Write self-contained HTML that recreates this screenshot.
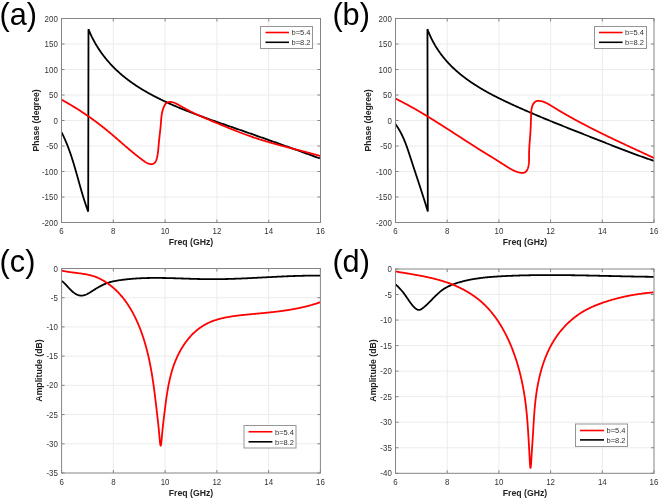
<!DOCTYPE html>
<html><head><meta charset="utf-8"><style>
html,body{margin:0;padding:0;background:#fff;}
svg{display:block;font-family:"Liberation Sans", sans-serif;will-change:transform;}
</style></head><body>
<svg width="660" height="500" viewBox="0 0 660 500">
<rect width="660" height="500" fill="#fff"/>
<path d="M113.30,18.50V222.50M165.10,18.50V222.50M216.90,18.50V222.50M268.70,18.50V222.50M61.50,197.00H320.50M61.50,171.50H320.50M61.50,146.00H320.50M61.50,120.50H320.50M61.50,95.00H320.50M61.50,69.50H320.50M61.50,44.00H320.50" stroke="#ececec" stroke-width="1" fill="none"/>
<path d="M61.50,222.50V219.50M61.50,18.50V21.50M113.30,222.50V219.50M113.30,18.50V21.50M165.10,222.50V219.50M165.10,18.50V21.50M216.90,222.50V219.50M216.90,18.50V21.50M268.70,222.50V219.50M268.70,18.50V21.50M320.50,222.50V219.50M320.50,18.50V21.50M61.50,222.50H64.50M320.50,222.50H317.50M61.50,197.00H64.50M320.50,197.00H317.50M61.50,171.50H64.50M320.50,171.50H317.50M61.50,146.00H64.50M320.50,146.00H317.50M61.50,120.50H64.50M320.50,120.50H317.50M61.50,95.00H64.50M320.50,95.00H317.50M61.50,69.50H64.50M320.50,69.50H317.50M61.50,44.00H64.50M320.50,44.00H317.50M61.50,18.50H64.50M320.50,18.50H317.50" stroke="#858585" stroke-width="1" fill="none"/>
<path d="M61.60,132.39 L61.93,133.02 L62.24,133.66 L62.56,134.30 L62.87,134.94 L63.18,135.58 L63.48,136.23 L63.78,136.87 L64.08,137.51 L64.38,138.16 L64.67,138.81 L64.95,139.46 L65.24,140.11 L65.52,140.76 L65.80,141.41 L66.07,142.06 L66.35,142.72 L66.61,143.37 L66.88,144.03 L67.14,144.69 L67.41,145.34 L67.66,146.00 L67.92,146.66 L68.17,147.33 L68.42,147.99 L68.67,148.65 L68.92,149.31 L69.16,149.98 L69.40,150.64 L69.64,151.31 L69.87,151.98 L70.11,152.65 L70.34,153.32 L70.57,153.98 L70.80,154.66 L71.02,155.33 L71.25,156.00 L71.47,156.67 L71.69,157.34 L71.91,158.02 L72.13,158.69 L72.34,159.37 L72.55,160.04 L72.77,160.72 L72.98,161.39 L73.19,162.07 L73.39,162.75 L73.60,163.43 L73.81,164.10 L74.01,164.78 L74.21,165.46 L74.41,166.14 L74.61,166.82 L74.81,167.50 L75.01,168.18 L75.21,168.86 L75.41,169.55 L75.60,170.23 L75.80,170.91 L75.99,171.59 L76.19,172.27 L76.38,172.96 L76.58,173.64 L76.77,174.32 L76.96,175.01 L77.15,175.69 L77.34,176.37 L77.53,177.06 L77.73,177.74 L77.92,178.42 L78.11,179.11 L78.30,179.79 L78.49,180.47 L78.68,181.16 L78.87,181.84 L79.06,182.53 L79.25,183.21 L79.44,183.89 L79.64,184.58 L79.83,185.26 L80.02,185.94 L80.22,186.62 L80.41,187.31 L80.60,187.99 L80.80,188.67 L80.99,189.35 L81.19,190.04 L81.39,190.72 L81.59,191.40 L81.79,192.08 L81.99,192.76 L82.19,193.44 L82.39,194.12 L82.59,194.80 L82.80,195.48 L83.00,196.16 L83.21,196.83 L83.42,197.51 L83.63,198.19 L83.84,198.87 L84.05,199.54 L84.26,200.22 L84.48,200.89 L84.70,201.57 L84.92,202.24 L85.14,202.91 L85.36,203.59 L85.59,204.26 L85.81,204.93 L86.04,205.60 L86.27,206.27 L86.50,206.94 L86.74,207.61 L86.98,208.27 L87.22,208.94 L87.46,209.61 L87.70,210.27 L87.95,210.93 L88.20,211.60 L88.48,29.21 L88.75,29.88 L89.02,30.55 L89.29,31.21 L89.57,31.87 L89.85,32.53 L90.14,33.19 L90.43,33.84 L90.73,34.49 L91.03,35.14 L91.33,35.79 L91.64,36.43 L91.95,37.08 L92.27,37.71 L92.59,38.35 L92.91,38.99 L93.24,39.62 L93.57,40.25 L93.90,40.87 L94.24,41.50 L94.59,42.12 L94.94,42.74 L95.29,43.35 L95.64,43.97 L96.00,44.58 L96.36,45.19 L96.73,45.79 L97.10,46.40 L97.47,47.00 L97.85,47.60 L98.23,48.19 L98.62,48.79 L99.00,49.38 L99.40,49.96 L99.79,50.55 L100.19,51.13 L100.59,51.71 L101.00,52.29 L101.41,52.86 L101.82,53.43 L102.23,54.00 L102.65,54.57 L103.08,55.13 L103.50,55.69 L103.93,56.25 L104.36,56.81 L104.80,57.36 L105.24,57.91 L105.68,58.46 L106.12,59.00 L106.57,59.55 L107.02,60.08 L107.48,60.62 L107.93,61.15 L108.39,61.69 L108.86,62.21 L109.32,62.74 L109.79,63.26 L110.26,63.78 L110.74,64.30 L111.22,64.81 L111.70,65.32 L112.18,65.83 L112.67,66.34 L113.16,66.84 L113.65,67.34 L114.14,67.84 L114.64,68.33 L115.14,68.82 L115.64,69.31 L116.15,69.79 L116.65,70.28 L117.16,70.76 L117.68,71.23 L118.19,71.71 L118.71,72.18 L119.23,72.65 L119.75,73.11 L120.28,73.57 L120.80,74.03 L121.33,74.49 L121.86,74.94 L122.40,75.39 L122.93,75.84 L123.47,76.28 L124.01,76.73 L124.56,77.17 L125.10,77.60 L125.65,78.03 L126.20,78.47 L126.75,78.89 L127.30,79.32 L127.86,79.74 L128.42,80.16 L128.98,80.58 L129.54,80.99 L130.10,81.41 L130.67,81.82 L131.23,82.22 L131.80,82.63 L132.37,83.03 L132.94,83.43 L133.52,83.83 L134.10,84.22 L134.67,84.61 L135.25,85.00 L135.83,85.39 L136.42,85.78 L137.00,86.16 L137.59,86.54 L138.18,86.92 L138.76,87.29 L139.35,87.67 L139.95,88.04 L140.54,88.41 L141.14,88.77 L141.73,89.14 L142.33,89.50 L142.93,89.86 L143.53,90.22 L144.13,90.58 L144.74,90.93 L145.34,91.28 L145.95,91.63 L146.55,91.98 L147.16,92.33 L147.77,92.67 L148.38,93.01 L148.99,93.36 L149.60,93.69 L150.22,94.03 L150.83,94.37 L151.45,94.70 L152.07,95.03 L152.68,95.36 L153.30,95.69 L153.92,96.01 L154.54,96.34 L155.16,96.66 L155.78,96.98 L156.41,97.30 L157.03,97.62 L157.66,97.93 L158.28,98.25 L158.91,98.56 L159.53,98.87 L160.16,99.18 L160.79,99.49 L161.42,99.79 L162.04,100.10 L162.67,100.40 L163.31,100.70 L163.94,101.00 L164.57,101.30 L165.20,101.60 L165.83,101.90 L166.47,102.19 L167.10,102.48 L167.74,102.78 L168.37,103.07 L169.01,103.36 L169.65,103.64 L170.28,103.93 L170.92,104.22 L171.56,104.50 L172.20,104.78 L172.84,105.06 L173.48,105.34 L174.12,105.62 L174.76,105.90 L175.40,106.18 L176.05,106.45 L176.69,106.73 L177.33,107.00 L177.98,107.27 L178.62,107.54 L179.27,107.81 L179.91,108.08 L180.56,108.35 L181.21,108.62 L181.85,108.88 L182.50,109.15 L183.15,109.41 L183.80,109.67 L184.45,109.94 L185.10,110.20 L185.75,110.46 L186.40,110.71 L187.05,110.97 L187.70,111.23 L188.35,111.49 L189.01,111.74 L189.66,112.00 L190.31,112.25 L190.97,112.50 L191.62,112.75 L192.28,113.00 L192.93,113.26 L193.59,113.50 L194.24,113.75 L194.90,114.00 L195.56,114.25 L196.21,114.50 L196.87,114.74 L197.53,114.99 L198.19,115.23 L198.84,115.48 L199.50,115.72 L200.16,115.96 L200.82,116.20 L201.48,116.45 L202.14,116.69 L202.80,116.93 L203.46,117.17 L204.13,117.41 L204.79,117.65 L205.45,117.88 L206.11,118.12 L206.77,118.36 L207.44,118.60 L208.10,118.83 L208.76,119.07 L209.43,119.31 L210.09,119.54 L210.76,119.78 L211.42,120.01 L212.08,120.24 L212.75,120.48 L213.42,120.71 L214.08,120.95 L214.75,121.18 L215.41,121.41 L216.08,121.64 L216.74,121.88 L217.41,122.11 L218.08,122.34 L218.75,122.57 L219.41,122.80 L220.08,123.04 L220.75,123.27 L221.42,123.50 L222.08,123.73 L222.75,123.96 L223.42,124.19 L224.09,124.42 L224.76,124.65 L225.43,124.88 L226.09,125.12 L226.76,125.35 L227.43,125.58 L228.10,125.81 L228.77,126.04 L229.44,126.27 L230.11,126.50 L230.78,126.73 L231.45,126.96 L232.12,127.19 L232.79,127.43 L233.46,127.66 L234.13,127.89 L234.80,128.12 L235.47,128.35 L236.14,128.58 L236.81,128.82 L237.48,129.05 L238.15,129.28 L238.82,129.51 L239.49,129.75 L240.16,129.98 L240.83,130.21 L241.50,130.45 L242.17,130.68 L242.85,130.91 L243.52,131.15 L244.19,131.38 L244.86,131.61 L245.53,131.85 L246.20,132.08 L246.87,132.32 L247.54,132.55 L248.21,132.78 L248.88,133.02 L249.55,133.25 L250.22,133.49 L250.89,133.72 L251.56,133.96 L252.23,134.19 L252.90,134.43 L253.57,134.66 L254.24,134.90 L254.91,135.13 L255.58,135.37 L256.25,135.60 L256.92,135.84 L257.59,136.07 L258.26,136.31 L258.93,136.54 L259.60,136.78 L260.27,137.02 L260.93,137.25 L261.60,137.49 L262.27,137.72 L262.94,137.96 L263.61,138.20 L264.28,138.43 L264.94,138.67 L265.61,138.90 L266.28,139.14 L266.95,139.38 L267.61,139.61 L268.28,139.85 L268.95,140.09 L269.61,140.32 L270.28,140.56 L270.94,140.79 L271.61,141.03 L272.28,141.27 L272.94,141.50 L273.61,141.74 L274.27,141.98 L274.94,142.21 L275.60,142.45 L276.26,142.69 L276.93,142.92 L277.59,143.16 L278.25,143.40 L278.92,143.63 L279.58,143.87 L280.24,144.11 L280.90,144.34 L281.56,144.58 L282.23,144.82 L282.89,145.05 L283.55,145.29 L284.21,145.53 L284.87,145.76 L285.53,146.00 L286.19,146.24 L286.85,146.47 L287.50,146.71 L288.16,146.95 L288.82,147.18 L289.48,147.42 L290.14,147.65 L290.79,147.89 L291.45,148.13 L292.10,148.36 L292.76,148.60 L293.42,148.84 L294.07,149.07 L294.72,149.31 L295.38,149.54 L296.03,149.78 L296.68,150.02 L297.34,150.25 L297.99,150.49 L298.64,150.72 L299.29,150.96 L299.94,151.19 L300.59,151.43 L301.24,151.67 L301.89,151.90 L302.54,152.14 L303.19,152.37 L303.84,152.61 L304.49,152.84 L305.13,153.08 L305.78,153.31 L306.42,153.55 L307.07,153.78 L307.71,154.02 L308.36,154.25 L309.00,154.49 L309.65,154.72 L310.29,154.95 L310.93,155.19 L311.57,155.42 L312.21,155.66 L312.85,155.89 L313.49,156.12 L314.13,156.36 L314.77,156.59 L315.41,156.83 L316.05,157.06 L316.68,157.29 L317.32,157.53 L317.96,157.76 L318.59,157.99 L319.22,158.22 L319.86,158.46" stroke="#000000" stroke-width="1.8" fill="none" stroke-linejoin="miter" stroke-linecap="butt"/>
<path d="M61.53,99.68 L62.15,100.02 L62.77,100.36 L63.39,100.71 L64.00,101.05 L64.62,101.40 L65.24,101.75 L65.85,102.09 L66.46,102.45 L67.07,102.80 L67.68,103.15 L68.29,103.50 L68.90,103.86 L69.51,104.22 L70.12,104.57 L70.72,104.93 L71.33,105.29 L71.93,105.66 L72.53,106.02 L73.13,106.38 L73.73,106.75 L74.33,107.12 L74.93,107.49 L75.53,107.86 L76.12,108.23 L76.72,108.60 L77.31,108.97 L77.90,109.35 L78.49,109.72 L79.09,110.10 L79.68,110.48 L80.26,110.86 L80.85,111.24 L81.44,111.63 L82.02,112.01 L82.61,112.40 L83.19,112.78 L83.78,113.17 L84.36,113.56 L84.94,113.95 L85.52,114.34 L86.10,114.74 L86.68,115.13 L87.25,115.53 L87.83,115.93 L88.40,116.33 L88.98,116.73 L89.55,117.13 L90.12,117.53 L90.69,117.94 L91.27,118.34 L91.83,118.75 L92.40,119.16 L92.97,119.57 L93.54,119.98 L94.10,120.39 L94.67,120.81 L95.23,121.22 L95.80,121.64 L96.36,122.06 L96.92,122.48 L97.48,122.90 L98.04,123.32 L98.60,123.74 L99.16,124.17 L99.71,124.60 L100.27,125.02 L100.82,125.45 L101.38,125.88 L101.93,126.32 L102.48,126.75 L103.04,127.19 L103.59,127.62 L104.14,128.06 L104.69,128.50 L105.23,128.94 L105.78,129.38 L106.33,129.82 L106.87,130.27 L107.42,130.72 L107.96,131.16 L108.51,131.61 L109.05,132.06 L109.59,132.51 L110.13,132.97 L110.67,133.42 L111.21,133.88 L111.75,134.33 L112.29,134.79 L112.83,135.25 L113.37,135.71 L113.90,136.17 L114.44,136.63 L114.97,137.09 L115.51,137.55 L116.04,138.01 L116.58,138.47 L117.11,138.94 L117.65,139.40 L118.18,139.86 L118.71,140.32 L119.24,140.79 L119.78,141.25 L120.31,141.71 L120.84,142.18 L121.37,142.64 L121.90,143.10 L122.43,143.56 L122.96,144.02 L123.49,144.48 L124.02,144.94 L124.56,145.40 L125.09,145.86 L125.62,146.32 L126.15,146.78 L126.68,147.23 L127.21,147.69 L127.74,148.14 L128.27,148.59 L128.80,149.04 L129.33,149.49 L129.86,149.94 L130.40,150.39 L130.93,150.84 L131.46,151.28 L131.99,151.72 L132.53,152.16 L133.06,152.60 L133.59,153.04 L134.13,153.47 L134.66,153.91 L135.20,154.34 L135.73,154.77 L136.27,155.20 L136.81,155.63 L137.36,156.06 L137.90,156.48 L138.45,156.91 L139.00,157.34 L139.56,157.77 L140.12,158.20 L140.69,158.64 L141.26,159.07 L141.83,159.51 L142.41,159.95 L143.00,160.39 L143.60,160.82 L144.20,161.25 L144.81,161.67 L145.42,162.07 L146.05,162.45 L146.68,162.81 L147.32,163.14 L147.97,163.44 L148.63,163.71 L149.29,163.93 L149.96,164.10 L150.63,164.20 L151.29,164.23 L151.94,164.18 L152.59,164.03 L153.22,163.79 L153.81,163.47 L154.34,163.08 L154.82,162.62 L155.25,162.11 L155.62,161.56 L155.94,160.96 L156.23,160.32 L156.48,159.66 L156.70,158.97 L156.89,158.26 L157.06,157.55 L157.22,156.83 L157.36,156.11 L157.49,155.40 L157.61,154.68 L157.73,153.97 L157.83,153.26 L157.93,152.55 L158.02,151.84 L158.10,151.14 L158.18,150.43 L158.25,149.73 L158.32,149.03 L158.38,148.33 L158.44,147.63 L158.50,146.93 L158.56,146.23 L158.62,145.53 L158.68,144.84 L158.74,144.14 L158.80,143.45 L158.86,142.75 L158.92,142.06 L158.99,141.36 L159.06,140.67 L159.13,139.98 L159.21,139.29 L159.28,138.59 L159.36,137.90 L159.44,137.21 L159.52,136.52 L159.60,135.82 L159.68,135.13 L159.76,134.44 L159.84,133.75 L159.92,133.05 L160.00,132.36 L160.08,131.66 L160.16,130.97 L160.24,130.27 L160.31,129.58 L160.38,128.88 L160.46,128.18 L160.53,127.48 L160.59,126.78 L160.66,126.08 L160.72,125.38 L160.77,124.67 L160.83,123.97 L160.88,123.26 L160.93,122.56 L160.99,121.85 L161.04,121.14 L161.09,120.44 L161.15,119.73 L161.21,119.02 L161.27,118.32 L161.34,117.61 L161.42,116.91 L161.50,116.21 L161.59,115.51 L161.69,114.82 L161.80,114.12 L161.92,113.43 L162.06,112.74 L162.20,112.05 L162.36,111.37 L162.54,110.69 L162.72,110.02 L162.93,109.35 L163.15,108.68 L163.39,108.02 L163.66,107.36 L163.94,106.71 L164.24,106.06 L164.56,105.42 L164.91,104.80 L165.30,104.20 L165.73,103.66 L166.22,103.18 L166.77,102.78 L167.37,102.47 L168.03,102.23 L168.71,102.07 L169.41,101.98 L170.11,101.94 L170.80,101.96 L171.49,102.03 L172.16,102.15 L172.83,102.31 L173.49,102.50 L174.14,102.73 L174.79,102.99 L175.43,103.27 L176.06,103.57 L176.70,103.90 L177.33,104.23 L177.96,104.58 L178.58,104.93 L179.21,105.28 L179.83,105.63 L180.46,105.99 L181.08,106.34 L181.71,106.68 L182.33,107.03 L182.96,107.38 L183.58,107.72 L184.20,108.06 L184.83,108.40 L185.45,108.74 L186.08,109.08 L186.70,109.41 L187.32,109.74 L187.95,110.07 L188.58,110.40 L189.20,110.72 L189.83,111.05 L190.46,111.36 L191.08,111.68 L191.71,111.99 L192.34,112.30 L192.97,112.61 L193.60,112.92 L194.23,113.22 L194.86,113.52 L195.49,113.82 L196.12,114.12 L196.75,114.42 L197.39,114.71 L198.02,115.00 L198.65,115.29 L199.29,115.58 L199.92,115.87 L200.56,116.15 L201.19,116.44 L201.83,116.72 L202.47,117.00 L203.10,117.28 L203.74,117.56 L204.38,117.83 L205.02,118.11 L205.66,118.38 L206.30,118.66 L206.94,118.93 L207.58,119.20 L208.22,119.47 L208.86,119.74 L209.50,120.01 L210.14,120.28 L210.79,120.55 L211.43,120.82 L212.07,121.09 L212.72,121.36 L213.36,121.63 L214.01,121.90 L214.65,122.16 L215.30,122.43 L215.94,122.70 L216.59,122.97 L217.24,123.24 L217.88,123.51 L218.53,123.77 L219.18,124.04 L219.83,124.31 L220.48,124.58 L221.13,124.85 L221.78,125.12 L222.43,125.39 L223.08,125.66 L223.73,125.93 L224.38,126.20 L225.03,126.47 L225.69,126.73 L226.34,127.00 L226.99,127.27 L227.65,127.54 L228.30,127.81 L228.95,128.07 L229.61,128.34 L230.26,128.61 L230.92,128.87 L231.57,129.14 L232.23,129.40 L232.89,129.66 L233.54,129.93 L234.20,130.19 L234.86,130.45 L235.52,130.71 L236.17,130.97 L236.83,131.23 L237.49,131.49 L238.15,131.75 L238.81,132.00 L239.47,132.26 L240.13,132.51 L240.79,132.77 L241.45,133.02 L242.11,133.27 L242.77,133.52 L243.44,133.77 L244.10,134.02 L244.76,134.26 L245.42,134.51 L246.09,134.75 L246.75,134.99 L247.41,135.23 L248.08,135.47 L248.74,135.71 L249.41,135.95 L250.07,136.18 L250.74,136.42 L251.40,136.65 L252.07,136.88 L252.73,137.11 L253.40,137.33 L254.07,137.56 L254.73,137.78 L255.40,138.00 L256.07,138.22 L256.74,138.44 L257.40,138.66 L258.07,138.87 L258.74,139.09 L259.41,139.30 L260.08,139.51 L260.75,139.72 L261.42,139.93 L262.09,140.14 L262.76,140.34 L263.43,140.55 L264.10,140.75 L264.77,140.95 L265.44,141.15 L266.11,141.35 L266.78,141.55 L267.45,141.75 L268.12,141.95 L268.80,142.14 L269.47,142.34 L270.14,142.53 L270.81,142.72 L271.49,142.91 L272.16,143.10 L272.83,143.29 L273.51,143.48 L274.18,143.67 L274.85,143.86 L275.53,144.05 L276.20,144.23 L276.88,144.42 L277.55,144.60 L278.23,144.78 L278.90,144.97 L279.58,145.15 L280.25,145.33 L280.93,145.51 L281.60,145.69 L282.28,145.87 L282.96,146.05 L283.63,146.23 L284.31,146.41 L284.98,146.59 L285.66,146.77 L286.34,146.95 L287.02,147.12 L287.69,147.30 L288.37,147.48 L289.05,147.66 L289.72,147.83 L290.40,148.01 L291.08,148.18 L291.76,148.36 L292.44,148.54 L293.11,148.71 L293.79,148.89 L294.47,149.06 L295.15,149.24 L295.83,149.42 L296.51,149.59 L297.19,149.77 L297.87,149.95 L298.54,150.12 L299.22,150.30 L299.90,150.48 L300.58,150.65 L301.26,150.83 L301.94,151.01 L302.62,151.19 L303.30,151.37 L303.98,151.54 L304.66,151.72 L305.34,151.90 L306.02,152.08 L306.70,152.26 L307.38,152.44 L308.06,152.63 L308.74,152.81 L309.42,152.99 L310.10,153.18 L310.78,153.36 L311.47,153.54 L312.15,153.73 L312.83,153.92 L313.51,154.10 L314.19,154.29 L314.87,154.48 L315.55,154.67 L316.23,154.86 L316.91,155.05 L317.59,155.24 L318.27,155.44 L318.96,155.63 L319.64,155.83 L320.32,156.02" stroke="#ff0000" stroke-width="1.8" fill="none" stroke-linejoin="miter" stroke-linecap="butt"/>
<rect x="61.50" y="18.50" width="259.00" height="204.00" stroke="#858585" stroke-width="1" fill="none"/>
<text transform="translate(61.50,234.20) scale(0.92,1)" text-anchor="middle" font-size="8.6" fill="#333">6</text>
<text transform="translate(113.30,234.20) scale(0.92,1)" text-anchor="middle" font-size="8.6" fill="#333">8</text>
<text transform="translate(165.10,234.20) scale(0.92,1)" text-anchor="middle" font-size="8.6" fill="#333">10</text>
<text transform="translate(216.90,234.20) scale(0.92,1)" text-anchor="middle" font-size="8.6" fill="#333">12</text>
<text transform="translate(268.70,234.20) scale(0.92,1)" text-anchor="middle" font-size="8.6" fill="#333">14</text>
<text transform="translate(320.50,234.20) scale(0.92,1)" text-anchor="middle" font-size="8.6" fill="#333">16</text>
<text transform="translate(57.80,225.50) scale(0.92,1)" text-anchor="end" font-size="8.6" fill="#333">-200</text>
<text transform="translate(57.80,200.00) scale(0.92,1)" text-anchor="end" font-size="8.6" fill="#333">-150</text>
<text transform="translate(57.80,174.50) scale(0.92,1)" text-anchor="end" font-size="8.6" fill="#333">-100</text>
<text transform="translate(57.80,149.00) scale(0.92,1)" text-anchor="end" font-size="8.6" fill="#333">-50</text>
<text transform="translate(57.80,123.50) scale(0.92,1)" text-anchor="end" font-size="8.6" fill="#333">0</text>
<text transform="translate(57.80,98.00) scale(0.92,1)" text-anchor="end" font-size="8.6" fill="#333">50</text>
<text transform="translate(57.80,72.50) scale(0.92,1)" text-anchor="end" font-size="8.6" fill="#333">100</text>
<text transform="translate(57.80,47.00) scale(0.92,1)" text-anchor="end" font-size="8.6" fill="#333">150</text>
<text transform="translate(57.80,21.50) scale(0.92,1)" text-anchor="end" font-size="8.6" fill="#333">200</text>
<text x="191.00" y="245.30" text-anchor="middle" font-size="8.7" font-weight="bold" fill="#222">Freq (GHz)</text>
<text transform="translate(38.70,120.40) rotate(-90)" text-anchor="middle" font-size="8.7" font-weight="bold" fill="#222">Phase (degree)</text>
<rect x="260.50" y="26.50" width="52.00" height="22.00" fill="#fff" stroke="#959595" stroke-width="1"/>
<path d="M265.50,32.50H289.00" stroke="#ff0000" stroke-width="1.6"/>
<text transform="translate(291.50,35.40) scale(0.93,1)" font-size="8.1" fill="#333">b=5.4</text>
<path d="M265.50,42.30H289.00" stroke="#000000" stroke-width="1.6"/>
<text transform="translate(291.50,45.20) scale(0.93,1)" font-size="8.1" fill="#333">b=8.2</text>
<text x="-0.60" y="25.40" font-size="30.7" fill="#000">(a)</text>
<path d="M447.20,18.50V222.50M498.90,18.50V222.50M550.60,18.50V222.50M602.30,18.50V222.50M395.50,197.00H654.00M395.50,171.50H654.00M395.50,146.00H654.00M395.50,120.50H654.00M395.50,95.00H654.00M395.50,69.50H654.00M395.50,44.00H654.00" stroke="#ececec" stroke-width="1" fill="none"/>
<path d="M395.50,222.50V219.50M395.50,18.50V21.50M447.20,222.50V219.50M447.20,18.50V21.50M498.90,222.50V219.50M498.90,18.50V21.50M550.60,222.50V219.50M550.60,18.50V21.50M602.30,222.50V219.50M602.30,18.50V21.50M654.00,222.50V219.50M654.00,18.50V21.50M395.50,222.50H398.50M654.00,222.50H651.00M395.50,197.00H398.50M654.00,197.00H651.00M395.50,171.50H398.50M654.00,171.50H651.00M395.50,146.00H398.50M654.00,146.00H651.00M395.50,120.50H398.50M654.00,120.50H651.00M395.50,95.00H398.50M654.00,95.00H651.00M395.50,69.50H398.50M654.00,69.50H651.00M395.50,44.00H398.50M654.00,44.00H651.00M395.50,18.50H398.50M654.00,18.50H651.00" stroke="#858585" stroke-width="1" fill="none"/>
<path d="M395.45,124.07 L395.89,124.68 L396.31,125.29 L396.73,125.90 L397.14,126.52 L397.54,127.13 L397.93,127.75 L398.32,128.37 L398.69,128.99 L399.06,129.61 L399.43,130.23 L399.78,130.86 L400.13,131.48 L400.47,132.11 L400.81,132.74 L401.14,133.37 L401.46,134.00 L401.77,134.64 L402.08,135.27 L402.39,135.91 L402.69,136.55 L402.98,137.18 L403.27,137.82 L403.56,138.47 L403.83,139.11 L404.11,139.75 L404.38,140.40 L404.64,141.04 L404.91,141.69 L405.16,142.34 L405.42,142.99 L405.67,143.64 L405.92,144.29 L406.16,144.95 L406.40,145.60 L406.64,146.26 L406.87,146.91 L407.11,147.57 L407.34,148.23 L407.57,148.89 L407.79,149.55 L408.02,150.21 L408.24,150.87 L408.46,151.53 L408.68,152.20 L408.90,152.86 L409.12,153.53 L409.34,154.19 L409.56,154.86 L409.77,155.53 L409.99,156.19 L410.21,156.86 L410.43,157.53 L410.64,158.20 L410.86,158.87 L411.08,159.54 L411.30,160.22 L411.52,160.89 L411.74,161.56 L411.96,162.24 L412.18,162.91 L412.40,163.58 L412.62,164.26 L412.84,164.94 L413.06,165.61 L413.29,166.29 L413.51,166.96 L413.73,167.64 L413.95,168.32 L414.18,169.00 L414.40,169.68 L414.62,170.35 L414.85,171.03 L415.07,171.71 L415.29,172.39 L415.52,173.07 L415.74,173.75 L415.97,174.43 L416.19,175.11 L416.41,175.79 L416.64,176.47 L416.86,177.15 L417.09,177.83 L417.31,178.51 L417.53,179.19 L417.76,179.87 L417.98,180.55 L418.20,181.23 L418.43,181.91 L418.65,182.59 L418.87,183.27 L419.10,183.95 L419.32,184.63 L419.54,185.31 L419.76,185.99 L419.98,186.66 L420.21,187.34 L420.43,188.02 L420.65,188.70 L420.87,189.38 L421.09,190.05 L421.31,190.73 L421.53,191.41 L421.74,192.08 L421.96,192.76 L422.18,193.44 L422.40,194.11 L422.61,194.79 L422.83,195.46 L423.05,196.13 L423.26,196.81 L423.48,197.48 L423.69,198.15 L423.90,198.82 L424.12,199.49 L424.33,200.16 L424.54,200.83 L424.75,201.50 L424.96,202.17 L425.17,202.84 L425.38,203.50 L425.59,204.17 L425.79,204.83 L426.00,205.50 L426.20,206.16 L426.41,206.82 L426.61,207.48 L426.81,208.15 L427.02,208.81 L427.22,209.46 L427.42,210.12 L427.62,210.78 L427.81,211.43 L427.44,29.14 L427.70,29.85 L427.97,30.55 L428.24,31.25 L428.51,31.95 L428.79,32.64 L429.07,33.32 L429.36,34.00 L429.65,34.68 L429.95,35.36 L430.25,36.03 L430.55,36.69 L430.86,37.35 L431.17,38.01 L431.49,38.67 L431.81,39.32 L432.14,39.96 L432.47,40.61 L432.80,41.24 L433.14,41.88 L433.48,42.51 L433.82,43.14 L434.17,43.76 L434.52,44.38 L434.88,44.99 L435.24,45.61 L435.61,46.21 L435.97,46.82 L436.35,47.42 L436.72,48.02 L437.10,48.61 L437.48,49.20 L437.87,49.79 L438.26,50.37 L438.66,50.95 L439.05,51.53 L439.45,52.10 L439.86,52.67 L440.27,53.23 L440.68,53.79 L441.09,54.35 L441.51,54.91 L441.93,55.46 L442.36,56.01 L442.79,56.55 L443.22,57.10 L443.66,57.63 L444.09,58.17 L444.54,58.70 L444.98,59.23 L445.43,59.76 L445.88,60.28 L446.34,60.80 L446.79,61.31 L447.26,61.83 L447.72,62.34 L448.19,62.84 L448.66,63.35 L449.13,63.85 L449.61,64.35 L450.08,64.84 L450.57,65.33 L451.05,65.82 L451.54,66.31 L452.03,66.79 L452.52,67.27 L453.02,67.75 L453.52,68.22 L454.02,68.69 L454.52,69.16 L455.03,69.63 L455.54,70.09 L456.05,70.55 L456.57,71.01 L457.08,71.46 L457.60,71.92 L458.13,72.37 L458.65,72.81 L459.18,73.26 L459.71,73.70 L460.24,74.14 L460.78,74.58 L461.31,75.01 L461.85,75.44 L462.40,75.87 L462.94,76.30 L463.49,76.72 L464.03,77.14 L464.59,77.56 L465.14,77.98 L465.69,78.40 L466.25,78.81 L466.81,79.22 L467.37,79.63 L467.94,80.03 L468.50,80.43 L469.07,80.83 L469.64,81.23 L470.21,81.63 L470.78,82.02 L471.36,82.42 L471.94,82.81 L472.52,83.19 L473.10,83.58 L473.68,83.96 L474.27,84.35 L474.85,84.72 L475.44,85.10 L476.03,85.48 L476.62,85.85 L477.22,86.22 L477.81,86.59 L478.41,86.96 L479.01,87.33 L479.60,87.69 L480.21,88.05 L480.81,88.41 L481.41,88.77 L482.02,89.13 L482.63,89.48 L483.23,89.84 L483.84,90.19 L484.45,90.54 L485.07,90.89 L485.68,91.23 L486.30,91.58 L486.91,91.92 L487.53,92.26 L488.15,92.60 L488.77,92.94 L489.39,93.28 L490.01,93.61 L490.63,93.95 L491.26,94.28 L491.88,94.61 L492.51,94.94 L493.14,95.27 L493.76,95.60 L494.39,95.92 L495.02,96.25 L495.65,96.57 L496.29,96.89 L496.92,97.21 L497.55,97.53 L498.19,97.85 L498.82,98.16 L499.46,98.48 L500.09,98.79 L500.73,99.11 L501.37,99.42 L502.01,99.73 L502.65,100.04 L503.28,100.35 L503.92,100.65 L504.56,100.96 L505.21,101.27 L505.85,101.57 L506.49,101.87 L507.13,102.18 L507.77,102.48 L508.42,102.78 L509.06,103.08 L509.70,103.38 L510.35,103.68 L510.99,103.97 L511.64,104.27 L512.28,104.57 L512.93,104.86 L513.57,105.15 L514.22,105.45 L514.86,105.74 L515.51,106.03 L516.15,106.32 L516.80,106.61 L517.44,106.91 L518.09,107.19 L518.74,107.48 L519.38,107.77 L520.03,108.06 L520.67,108.35 L521.32,108.63 L521.96,108.92 L522.61,109.20 L523.26,109.49 L523.90,109.77 L524.55,110.06 L525.19,110.34 L525.84,110.62 L526.49,110.90 L527.13,111.18 L527.78,111.46 L528.43,111.74 L529.07,112.02 L529.72,112.30 L530.37,112.58 L531.01,112.86 L531.66,113.14 L532.31,113.41 L532.95,113.69 L533.60,113.97 L534.25,114.24 L534.89,114.52 L535.54,114.79 L536.19,115.06 L536.83,115.34 L537.48,115.61 L538.13,115.88 L538.78,116.16 L539.42,116.43 L540.07,116.70 L540.72,116.97 L541.37,117.24 L542.01,117.51 L542.66,117.78 L543.31,118.05 L543.96,118.32 L544.61,118.59 L545.25,118.86 L545.90,119.12 L546.55,119.39 L547.20,119.66 L547.85,119.92 L548.49,120.19 L549.14,120.46 L549.79,120.72 L550.44,120.99 L551.09,121.25 L551.74,121.52 L552.38,121.78 L553.03,122.05 L553.68,122.31 L554.33,122.57 L554.98,122.84 L555.63,123.10 L556.28,123.36 L556.93,123.62 L557.57,123.89 L558.22,124.15 L558.87,124.41 L559.52,124.67 L560.17,124.93 L560.82,125.19 L561.47,125.45 L562.12,125.71 L562.77,125.97 L563.42,126.23 L564.07,126.49 L564.72,126.75 L565.37,127.01 L566.02,127.27 L566.67,127.53 L567.32,127.79 L567.97,128.05 L568.62,128.31 L569.27,128.56 L569.92,128.82 L570.57,129.08 L571.22,129.34 L571.87,129.60 L572.52,129.85 L573.17,130.11 L573.82,130.37 L574.47,130.63 L575.12,130.88 L575.77,131.14 L576.43,131.40 L577.08,131.65 L577.73,131.91 L578.38,132.17 L579.03,132.43 L579.68,132.68 L580.33,132.94 L580.98,133.20 L581.64,133.45 L582.29,133.71 L582.94,133.96 L583.59,134.22 L584.24,134.48 L584.89,134.73 L585.55,134.99 L586.20,135.25 L586.85,135.50 L587.50,135.76 L588.15,136.02 L588.81,136.27 L589.46,136.53 L590.11,136.79 L590.76,137.04 L591.42,137.30 L592.07,137.56 L592.72,137.81 L593.37,138.07 L594.03,138.33 L594.68,138.58 L595.33,138.84 L595.99,139.10 L596.64,139.36 L597.29,139.61 L597.95,139.87 L598.60,140.13 L599.25,140.39 L599.91,140.65 L600.56,140.90 L601.21,141.16 L601.87,141.42 L602.52,141.68 L603.18,141.94 L603.83,142.19 L604.48,142.45 L605.14,142.71 L605.79,142.97 L606.45,143.23 L607.10,143.49 L607.75,143.74 L608.41,144.00 L609.06,144.26 L609.72,144.52 L610.37,144.77 L611.03,145.03 L611.68,145.29 L612.34,145.55 L612.99,145.80 L613.65,146.06 L614.30,146.32 L614.96,146.57 L615.61,146.83 L616.27,147.08 L616.92,147.34 L617.58,147.59 L618.24,147.85 L618.89,148.10 L619.55,148.36 L620.20,148.61 L620.86,148.87 L621.51,149.12 L622.17,149.37 L622.83,149.62 L623.48,149.88 L624.14,150.13 L624.80,150.38 L625.45,150.63 L626.11,150.88 L626.77,151.13 L627.42,151.38 L628.08,151.63 L628.74,151.88 L629.39,152.12 L630.05,152.37 L630.71,152.62 L631.37,152.87 L632.02,153.11 L632.68,153.36 L633.34,153.60 L633.99,153.84 L634.65,154.09 L635.31,154.33 L635.97,154.57 L636.63,154.81 L637.28,155.05 L637.94,155.29 L638.60,155.53 L639.26,155.77 L639.92,156.01 L640.58,156.24 L641.23,156.48 L641.89,156.71 L642.55,156.95 L643.21,157.18 L643.87,157.41 L644.53,157.65 L645.19,157.88 L645.85,158.11 L646.50,158.34 L647.16,158.56 L647.82,158.79 L648.48,159.02 L649.14,159.24 L649.80,159.47 L650.46,159.69 L651.12,159.91 L651.78,160.14 L652.44,160.36 L653.10,160.58 L653.76,160.79" stroke="#000000" stroke-width="1.8" fill="none" stroke-linejoin="miter" stroke-linecap="butt"/>
<path d="M395.56,98.63 L396.19,98.94 L396.81,99.25 L397.44,99.56 L398.07,99.88 L398.69,100.19 L399.31,100.51 L399.94,100.83 L400.56,101.14 L401.18,101.46 L401.80,101.79 L402.43,102.11 L403.05,102.43 L403.67,102.76 L404.29,103.09 L404.90,103.42 L405.52,103.75 L406.14,104.08 L406.76,104.41 L407.37,104.74 L407.99,105.08 L408.60,105.41 L409.22,105.75 L409.83,106.09 L410.45,106.43 L411.06,106.77 L411.67,107.11 L412.28,107.45 L412.90,107.80 L413.51,108.14 L414.12,108.49 L414.73,108.83 L415.34,109.18 L415.95,109.53 L416.56,109.88 L417.16,110.23 L417.77,110.58 L418.38,110.94 L418.99,111.29 L419.59,111.64 L420.20,112.00 L420.80,112.36 L421.41,112.71 L422.01,113.07 L422.62,113.43 L423.22,113.79 L423.83,114.15 L424.43,114.51 L425.03,114.88 L425.63,115.24 L426.24,115.60 L426.84,115.97 L427.44,116.33 L428.04,116.70 L428.64,117.06 L429.24,117.43 L429.84,117.80 L430.44,118.17 L431.04,118.54 L431.64,118.91 L432.24,119.28 L432.83,119.65 L433.43,120.02 L434.03,120.39 L434.63,120.77 L435.22,121.14 L435.82,121.51 L436.42,121.89 L437.01,122.26 L437.61,122.64 L438.20,123.01 L438.80,123.39 L439.39,123.77 L439.99,124.14 L440.58,124.52 L441.18,124.90 L441.77,125.28 L442.36,125.66 L442.96,126.04 L443.55,126.41 L444.14,126.79 L444.73,127.17 L445.33,127.55 L445.92,127.93 L446.51,128.31 L447.10,128.70 L447.69,129.08 L448.29,129.46 L448.88,129.84 L449.47,130.22 L450.06,130.60 L450.65,130.98 L451.24,131.37 L451.83,131.75 L452.42,132.13 L453.01,132.51 L453.60,132.89 L454.19,133.28 L454.78,133.66 L455.37,134.04 L455.96,134.42 L456.55,134.81 L457.14,135.19 L457.73,135.57 L458.32,135.95 L458.91,136.33 L459.49,136.72 L460.08,137.10 L460.67,137.48 L461.26,137.86 L461.85,138.24 L462.44,138.62 L463.03,139.01 L463.61,139.39 L464.20,139.77 L464.79,140.15 L465.38,140.53 L465.97,140.91 L466.56,141.29 L467.14,141.67 L467.73,142.05 L468.32,142.43 L468.91,142.80 L469.50,143.18 L470.09,143.56 L470.67,143.94 L471.26,144.31 L471.85,144.69 L472.44,145.07 L473.03,145.44 L473.62,145.82 L474.20,146.19 L474.79,146.57 L475.38,146.94 L475.97,147.31 L476.56,147.69 L477.15,148.06 L477.74,148.43 L478.33,148.80 L478.91,149.17 L479.50,149.54 L480.09,149.91 L480.68,150.28 L481.27,150.65 L481.86,151.02 L482.45,151.38 L483.04,151.75 L483.63,152.11 L484.22,152.48 L484.81,152.84 L485.40,153.21 L485.99,153.57 L486.59,153.94 L487.18,154.30 L487.77,154.67 L488.36,155.03 L488.96,155.39 L489.55,155.76 L490.14,156.13 L490.74,156.49 L491.33,156.86 L491.93,157.23 L492.53,157.59 L493.12,157.96 L493.72,158.33 L494.32,158.70 L494.92,159.07 L495.52,159.45 L496.12,159.82 L496.72,160.20 L497.32,160.57 L497.93,160.95 L498.53,161.33 L499.14,161.71 L499.75,162.10 L500.35,162.48 L500.96,162.87 L501.57,163.26 L502.18,163.65 L502.79,164.04 L503.41,164.44 L504.02,164.84 L504.64,165.24 L505.26,165.63 L505.87,166.03 L506.49,166.43 L507.11,166.82 L507.73,167.21 L508.36,167.59 L508.98,167.97 L509.61,168.34 L510.23,168.70 L510.86,169.06 L511.49,169.40 L512.12,169.74 L512.75,170.06 L513.38,170.37 L514.01,170.67 L514.64,170.95 L515.28,171.22 L515.91,171.47 L516.55,171.70 L517.18,171.92 L517.82,172.12 L518.46,172.29 L519.10,172.45 L519.74,172.58 L520.38,172.69 L521.02,172.78 L521.66,172.84 L522.30,172.86 L522.92,172.84 L523.52,172.77 L524.11,172.64 L524.67,172.45 L525.20,172.19 L525.70,171.86 L526.16,171.44 L526.57,170.93 L526.95,170.34 L527.29,169.69 L527.59,168.99 L527.85,168.25 L528.08,167.50 L528.28,166.73 L528.46,165.96 L528.60,165.18 L528.72,164.41 L528.82,163.64 L528.90,162.88 L528.96,162.13 L529.01,161.40 L529.04,160.69 L529.06,159.98 L529.07,159.29 L529.07,158.61 L529.07,157.93 L529.07,157.25 L529.06,156.58 L529.05,155.91 L529.05,155.24 L529.06,154.56 L529.06,153.88 L529.08,153.20 L529.09,152.51 L529.11,151.82 L529.13,151.13 L529.16,150.44 L529.19,149.75 L529.23,149.05 L529.26,148.35 L529.30,147.65 L529.34,146.95 L529.39,146.25 L529.43,145.54 L529.48,144.84 L529.53,144.13 L529.58,143.42 L529.63,142.71 L529.69,142.00 L529.74,141.30 L529.80,140.59 L529.85,139.87 L529.91,139.16 L529.96,138.45 L530.02,137.74 L530.07,137.03 L530.13,136.33 L530.18,135.62 L530.24,134.91 L530.29,134.20 L530.34,133.50 L530.39,132.79 L530.43,132.09 L530.48,131.39 L530.52,130.68 L530.56,129.99 L530.60,129.29 L530.63,128.59 L530.67,127.90 L530.70,127.21 L530.73,126.52 L530.76,125.83 L530.78,125.13 L530.81,124.44 L530.83,123.76 L530.85,123.06 L530.87,122.37 L530.90,121.68 L530.92,120.99 L530.94,120.30 L530.96,119.60 L530.98,118.91 L531.00,118.21 L531.02,117.51 L531.04,116.81 L531.07,116.11 L531.09,115.40 L531.12,114.69 L531.14,113.98 L531.17,113.26 L531.21,112.54 L531.25,111.82 L531.30,111.10 L531.36,110.37 L531.45,109.65 L531.56,108.92 L531.70,108.19 L531.87,107.47 L532.07,106.75 L532.31,106.03 L532.59,105.33 L532.90,104.66 L533.25,104.02 L533.63,103.41 L534.05,102.85 L534.50,102.35 L534.99,101.91 L535.51,101.54 L536.06,101.24 L536.65,101.04 L537.27,100.91 L537.90,100.85 L538.55,100.84 L539.20,100.87 L539.85,100.93 L540.49,101.03 L541.13,101.15 L541.76,101.29 L542.40,101.46 L543.03,101.66 L543.66,101.88 L544.28,102.12 L544.91,102.37 L545.53,102.65 L546.15,102.94 L546.77,103.25 L547.39,103.57 L548.01,103.90 L548.62,104.25 L549.24,104.60 L549.85,104.96 L550.47,105.33 L551.08,105.70 L551.69,106.07 L552.30,106.45 L552.92,106.83 L553.53,107.20 L554.14,107.58 L554.75,107.95 L555.37,108.33 L555.98,108.70 L556.59,109.07 L557.21,109.44 L557.82,109.81 L558.44,110.18 L559.05,110.54 L559.66,110.91 L560.28,111.27 L560.89,111.63 L561.51,112.00 L562.12,112.36 L562.74,112.71 L563.35,113.07 L563.97,113.43 L564.59,113.79 L565.20,114.14 L565.82,114.49 L566.43,114.85 L567.05,115.20 L567.67,115.55 L568.28,115.90 L568.90,116.25 L569.52,116.59 L570.14,116.94 L570.75,117.29 L571.37,117.63 L571.99,117.97 L572.61,118.32 L573.23,118.66 L573.85,119.00 L574.46,119.34 L575.08,119.68 L575.70,120.02 L576.32,120.35 L576.94,120.69 L577.56,121.02 L578.18,121.36 L578.80,121.69 L579.42,122.02 L580.04,122.36 L580.66,122.69 L581.28,123.02 L581.90,123.35 L582.53,123.67 L583.15,124.00 L583.77,124.33 L584.39,124.65 L585.01,124.98 L585.64,125.30 L586.26,125.63 L586.88,125.95 L587.50,126.27 L588.13,126.59 L588.75,126.92 L589.37,127.24 L590.00,127.56 L590.62,127.87 L591.24,128.19 L591.87,128.51 L592.49,128.83 L593.12,129.14 L593.74,129.46 L594.37,129.77 L594.99,130.09 L595.62,130.40 L596.24,130.71 L596.87,131.03 L597.49,131.34 L598.12,131.65 L598.75,131.96 L599.37,132.27 L600.00,132.58 L600.63,132.89 L601.25,133.20 L601.88,133.51 L602.51,133.82 L603.14,134.12 L603.76,134.43 L604.39,134.74 L605.02,135.04 L605.65,135.35 L606.28,135.65 L606.91,135.96 L607.54,136.26 L608.17,136.57 L608.80,136.87 L609.43,137.17 L610.06,137.48 L610.69,137.78 L611.32,138.08 L611.95,138.38 L612.58,138.68 L613.21,138.98 L613.84,139.28 L614.47,139.58 L615.10,139.88 L615.73,140.18 L616.37,140.48 L617.00,140.78 L617.63,141.08 L618.26,141.38 L618.90,141.68 L619.53,141.98 L620.16,142.28 L620.80,142.57 L621.43,142.87 L622.06,143.17 L622.70,143.47 L623.33,143.76 L623.97,144.06 L624.60,144.36 L625.24,144.65 L625.87,144.95 L626.51,145.25 L627.14,145.54 L627.78,145.84 L628.41,146.14 L629.05,146.43 L629.69,146.73 L630.32,147.03 L630.96,147.32 L631.60,147.62 L632.23,147.91 L632.87,148.21 L633.51,148.51 L634.15,148.80 L634.78,149.10 L635.42,149.39 L636.06,149.69 L636.70,149.99 L637.34,150.28 L637.98,150.58 L638.62,150.87 L639.26,151.17 L639.90,151.47 L640.54,151.76 L641.18,152.06 L641.82,152.36 L642.46,152.65 L643.10,152.95 L643.74,153.25 L644.38,153.55 L645.02,153.84 L645.66,154.14 L646.31,154.44 L646.95,154.74 L647.59,155.04 L648.23,155.33 L648.88,155.63 L649.52,155.93 L650.16,156.23 L650.81,156.53 L651.45,156.83 L652.09,157.13 L652.74,157.43 L653.38,157.73 L654.03,158.03" stroke="#ff0000" stroke-width="1.8" fill="none" stroke-linejoin="miter" stroke-linecap="butt"/>
<rect x="395.50" y="18.50" width="258.50" height="204.00" stroke="#858585" stroke-width="1" fill="none"/>
<text transform="translate(395.50,234.20) scale(0.92,1)" text-anchor="middle" font-size="8.6" fill="#333">6</text>
<text transform="translate(447.20,234.20) scale(0.92,1)" text-anchor="middle" font-size="8.6" fill="#333">8</text>
<text transform="translate(498.90,234.20) scale(0.92,1)" text-anchor="middle" font-size="8.6" fill="#333">10</text>
<text transform="translate(550.60,234.20) scale(0.92,1)" text-anchor="middle" font-size="8.6" fill="#333">12</text>
<text transform="translate(602.30,234.20) scale(0.92,1)" text-anchor="middle" font-size="8.6" fill="#333">14</text>
<text transform="translate(654.00,234.20) scale(0.92,1)" text-anchor="middle" font-size="8.6" fill="#333">16</text>
<text transform="translate(391.80,225.50) scale(0.92,1)" text-anchor="end" font-size="8.6" fill="#333">-200</text>
<text transform="translate(391.80,200.00) scale(0.92,1)" text-anchor="end" font-size="8.6" fill="#333">-150</text>
<text transform="translate(391.80,174.50) scale(0.92,1)" text-anchor="end" font-size="8.6" fill="#333">-100</text>
<text transform="translate(391.80,149.00) scale(0.92,1)" text-anchor="end" font-size="8.6" fill="#333">-50</text>
<text transform="translate(391.80,123.50) scale(0.92,1)" text-anchor="end" font-size="8.6" fill="#333">0</text>
<text transform="translate(391.80,98.00) scale(0.92,1)" text-anchor="end" font-size="8.6" fill="#333">50</text>
<text transform="translate(391.80,72.50) scale(0.92,1)" text-anchor="end" font-size="8.6" fill="#333">100</text>
<text transform="translate(391.80,47.00) scale(0.92,1)" text-anchor="end" font-size="8.6" fill="#333">150</text>
<text transform="translate(391.80,21.50) scale(0.92,1)" text-anchor="end" font-size="8.6" fill="#333">200</text>
<text x="525.00" y="245.30" text-anchor="middle" font-size="8.7" font-weight="bold" fill="#222">Freq (GHz)</text>
<text transform="translate(371.00,120.40) rotate(-90)" text-anchor="middle" font-size="8.7" font-weight="bold" fill="#222">Phase (degree)</text>
<rect x="594.50" y="26.50" width="52.00" height="22.00" fill="#fff" stroke="#959595" stroke-width="1"/>
<path d="M599.00,32.50H622.60" stroke="#ff0000" stroke-width="1.6"/>
<text transform="translate(625.00,35.40) scale(0.93,1)" font-size="8.1" fill="#333">b=5.4</text>
<path d="M599.00,42.30H622.60" stroke="#000000" stroke-width="1.6"/>
<text transform="translate(625.00,45.20) scale(0.93,1)" font-size="8.1" fill="#333">b=8.2</text>
<text x="332.40" y="25.40" font-size="30.7" fill="#000">(b)</text>
<path d="M113.36,268.50V473.00M165.12,268.50V473.00M216.88,268.50V473.00M268.64,268.50V473.00M61.60,443.79H320.40M61.60,414.57H320.40M61.60,385.36H320.40M61.60,356.14H320.40M61.60,326.93H320.40M61.60,297.71H320.40" stroke="#ececec" stroke-width="1" fill="none"/>
<path d="M61.60,473.00V470.00M61.60,268.50V271.50M113.36,473.00V470.00M113.36,268.50V271.50M165.12,473.00V470.00M165.12,268.50V271.50M216.88,473.00V470.00M216.88,268.50V271.50M268.64,473.00V470.00M268.64,268.50V271.50M320.40,473.00V470.00M320.40,268.50V271.50M61.60,473.00H64.60M320.40,473.00H317.40M61.60,443.79H64.60M320.40,443.79H317.40M61.60,414.57H64.60M320.40,414.57H317.40M61.60,385.36H64.60M320.40,385.36H317.40M61.60,356.14H64.60M320.40,356.14H317.40M61.60,326.93H64.60M320.40,326.93H317.40M61.60,297.71H64.60M320.40,297.71H317.40M61.60,268.50H64.60M320.40,268.50H317.40" stroke="#858585" stroke-width="1" fill="none"/>
<path d="M61.84,281.03 L62.31,281.38 L62.79,281.77 L63.27,282.19 L63.76,282.63 L64.25,283.10 L64.75,283.59 L65.25,284.10 L65.75,284.63 L66.26,285.18 L66.77,285.73 L67.29,286.29 L67.81,286.86 L68.33,287.43 L68.86,288.00 L69.39,288.57 L69.93,289.13 L70.47,289.68 L71.01,290.22 L71.55,290.74 L72.10,291.25 L72.66,291.73 L73.21,292.20 L73.77,292.63 L74.33,293.04 L74.90,293.42 L75.46,293.78 L76.04,294.10 L76.61,294.39 L77.19,294.66 L77.76,294.89 L78.35,295.09 L78.93,295.26 L79.52,295.40 L80.11,295.50 L80.70,295.57 L81.29,295.60 L81.89,295.60 L82.49,295.56 L83.09,295.48 L83.69,295.36 L84.29,295.21 L84.90,295.02 L85.51,294.80 L86.12,294.54 L86.73,294.26 L87.35,293.95 L87.96,293.62 L88.58,293.27 L89.20,292.91 L89.82,292.53 L90.45,292.15 L91.07,291.75 L91.70,291.36 L92.33,290.96 L92.96,290.56 L93.59,290.17 L94.23,289.77 L94.87,289.37 L95.51,288.98 L96.15,288.59 L96.79,288.21 L97.43,287.82 L98.08,287.45 L98.73,287.07 L99.38,286.71 L100.03,286.35 L100.68,286.00 L101.34,285.65 L102.00,285.32 L102.65,284.99 L103.32,284.68 L103.98,284.37 L104.64,284.08 L105.31,283.80 L105.98,283.53 L106.64,283.28 L107.32,283.03 L107.99,282.80 L108.66,282.58 L109.34,282.37 L110.01,282.18 L110.69,281.99 L111.37,281.81 L112.05,281.64 L112.73,281.48 L113.42,281.32 L114.10,281.18 L114.78,281.04 L115.47,280.91 L116.16,280.78 L116.84,280.66 L117.53,280.54 L118.22,280.43 L118.90,280.33 L119.59,280.22 L120.28,280.12 L120.97,280.03 L121.66,279.93 L122.35,279.84 L123.04,279.75 L123.73,279.66 L124.42,279.58 L125.11,279.50 L125.80,279.42 L126.49,279.34 L127.18,279.27 L127.87,279.19 L128.56,279.12 L129.26,279.06 L129.95,278.99 L130.64,278.93 L131.33,278.87 L132.02,278.81 L132.72,278.75 L133.41,278.70 L134.10,278.65 L134.80,278.60 L135.49,278.55 L136.18,278.50 L136.88,278.46 L137.57,278.42 L138.27,278.38 L138.96,278.34 L139.66,278.30 L140.35,278.27 L141.05,278.24 L141.74,278.21 L142.44,278.18 L143.13,278.15 L143.83,278.13 L144.52,278.10 L145.22,278.08 L145.92,278.06 L146.61,278.04 L147.31,278.02 L148.01,278.01 L148.70,277.99 L149.40,277.98 L150.10,277.97 L150.79,277.96 L151.49,277.95 L152.19,277.94 L152.89,277.94 L153.59,277.93 L154.28,277.93 L154.98,277.93 L155.68,277.93 L156.38,277.93 L157.08,277.93 L157.78,277.93 L158.48,277.93 L159.18,277.94 L159.88,277.94 L160.58,277.95 L161.28,277.96 L161.98,277.97 L162.68,277.98 L163.38,277.99 L164.08,278.00 L164.78,278.01 L165.48,278.02 L166.18,278.04 L166.88,278.05 L167.58,278.07 L168.28,278.08 L168.98,278.10 L169.68,278.12 L170.39,278.13 L171.09,278.15 L171.79,278.17 L172.49,278.19 L173.19,278.21 L173.90,278.23 L174.60,278.25 L175.30,278.27 L176.00,278.29 L176.70,278.32 L177.41,278.34 L178.11,278.36 L178.81,278.38 L179.52,278.41 L180.22,278.43 L180.92,278.45 L181.63,278.48 L182.33,278.50 L183.03,278.52 L183.74,278.55 L184.44,278.57 L185.14,278.59 L185.85,278.62 L186.55,278.64 L187.26,278.66 L187.96,278.69 L188.66,278.71 L189.37,278.73 L190.07,278.76 L190.78,278.78 L191.48,278.80 L192.19,278.82 L192.89,278.84 L193.60,278.86 L194.30,278.89 L195.01,278.91 L195.71,278.93 L196.42,278.94 L197.12,278.96 L197.83,278.98 L198.53,279.00 L199.24,279.02 L199.94,279.03 L200.65,279.05 L201.35,279.06 L202.06,279.08 L202.76,279.09 L203.47,279.11 L204.17,279.12 L204.88,279.13 L205.59,279.14 L206.29,279.15 L207.00,279.16 L207.70,279.17 L208.41,279.17 L209.12,279.18 L209.82,279.18 L210.53,279.19 L211.23,279.19 L211.94,279.19 L212.65,279.19 L213.35,279.19 L214.06,279.19 L214.76,279.19 L215.47,279.18 L216.18,279.18 L216.88,279.17 L217.59,279.17 L218.30,279.16 L219.00,279.15 L219.71,279.14 L220.42,279.13 L221.12,279.12 L221.83,279.11 L222.53,279.10 L223.24,279.08 L223.95,279.07 L224.65,279.06 L225.36,279.04 L226.07,279.02 L226.77,279.01 L227.48,278.99 L228.19,278.97 L228.89,278.95 L229.60,278.93 L230.31,278.91 L231.01,278.89 L231.72,278.87 L232.43,278.84 L233.13,278.82 L233.84,278.80 L234.54,278.77 L235.25,278.75 L235.96,278.72 L236.66,278.70 L237.37,278.67 L238.08,278.64 L238.78,278.61 L239.49,278.59 L240.19,278.56 L240.90,278.53 L241.61,278.50 L242.31,278.47 L243.02,278.44 L243.73,278.41 L244.43,278.38 L245.14,278.34 L245.84,278.31 L246.55,278.28 L247.26,278.25 L247.96,278.21 L248.67,278.18 L249.37,278.15 L250.08,278.11 L250.78,278.08 L251.49,278.04 L252.20,278.01 L252.90,277.97 L253.61,277.94 L254.31,277.90 L255.02,277.87 L255.72,277.83 L256.43,277.80 L257.13,277.76 L257.84,277.72 L258.54,277.69 L259.25,277.65 L259.95,277.61 L260.66,277.58 L261.36,277.54 L262.07,277.50 L262.77,277.47 L263.47,277.43 L264.18,277.39 L264.88,277.36 L265.59,277.32 L266.29,277.28 L267.00,277.25 L267.70,277.21 L268.40,277.17 L269.11,277.14 L269.81,277.10 L270.51,277.06 L271.22,277.03 L271.92,276.99 L272.63,276.96 L273.33,276.92 L274.03,276.88 L274.73,276.85 L275.44,276.81 L276.14,276.78 L276.84,276.74 L277.55,276.71 L278.25,276.68 L278.95,276.64 L279.65,276.61 L280.35,276.58 L281.06,276.54 L281.76,276.51 L282.46,276.48 L283.16,276.45 L283.86,276.42 L284.57,276.38 L285.27,276.35 L285.97,276.32 L286.67,276.29 L287.37,276.26 L288.07,276.24 L288.77,276.21 L289.47,276.18 L290.17,276.15 L290.87,276.13 L291.57,276.10 L292.27,276.07 L292.97,276.05 L293.67,276.02 L294.37,276.00 L295.07,275.98 L295.77,275.95 L296.47,275.93 L297.17,275.91 L297.87,275.89 L298.57,275.87 L299.26,275.85 L299.96,275.83 L300.66,275.81 L301.36,275.80 L302.06,275.78 L302.75,275.76 L303.45,275.75 L304.15,275.73 L304.85,275.72 L305.54,275.71 L306.24,275.70 L306.94,275.68 L307.63,275.67 L308.33,275.67 L309.03,275.66 L309.72,275.65 L310.42,275.64 L311.11,275.64 L311.81,275.63 L312.50,275.63 L313.20,275.63 L313.89,275.62 L314.59,275.62 L315.28,275.62 L315.98,275.63 L316.67,275.63 L317.37,275.63 L318.06,275.64 L318.75,275.64 L319.45,275.65 L320.14,275.66" stroke="#000000" stroke-width="1.8" fill="none" stroke-linejoin="miter" stroke-linecap="butt"/>
<path d="M61.74,270.63 L62.43,270.78 L63.12,270.93 L63.81,271.08 L64.50,271.21 L65.19,271.34 L65.89,271.47 L66.58,271.59 L67.28,271.70 L67.98,271.81 L68.68,271.92 L69.38,272.02 L70.08,272.12 L70.78,272.22 L71.49,272.31 L72.19,272.41 L72.89,272.50 L73.60,272.58 L74.30,272.67 L75.01,272.76 L75.71,272.84 L76.41,272.93 L77.12,273.02 L77.82,273.10 L78.52,273.19 L79.23,273.28 L79.93,273.38 L80.63,273.47 L81.33,273.57 L82.03,273.67 L82.73,273.77 L83.42,273.88 L84.12,273.99 L84.81,274.11 L85.50,274.23 L86.19,274.36 L86.88,274.49 L87.57,274.63 L88.25,274.77 L88.94,274.93 L89.62,275.09 L90.29,275.25 L90.97,275.43 L91.64,275.61 L92.31,275.80 L92.98,276.00 L93.64,276.22 L94.31,276.44 L94.97,276.67 L95.62,276.91 L96.27,277.16 L96.92,277.42 L97.57,277.69 L98.21,277.97 L98.85,278.26 L99.48,278.56 L100.11,278.87 L100.74,279.19 L101.36,279.51 L101.98,279.84 L102.60,280.18 L103.21,280.53 L103.82,280.89 L104.42,281.25 L105.02,281.62 L105.61,282.00 L106.21,282.39 L106.79,282.78 L107.37,283.17 L107.95,283.58 L108.52,283.99 L109.09,284.40 L109.65,284.82 L110.21,285.25 L110.76,285.68 L111.31,286.12 L111.85,286.56 L112.39,287.00 L112.92,287.45 L113.45,287.91 L113.97,288.37 L114.49,288.84 L115.00,289.31 L115.51,289.78 L116.02,290.26 L116.52,290.75 L117.01,291.23 L117.50,291.73 L117.99,292.23 L118.47,292.73 L118.95,293.23 L119.42,293.74 L119.89,294.26 L120.35,294.78 L120.81,295.30 L121.27,295.82 L121.72,296.35 L122.16,296.89 L122.60,297.43 L123.04,297.97 L123.47,298.51 L123.90,299.06 L124.33,299.62 L124.75,300.17 L125.17,300.73 L125.58,301.29 L125.99,301.86 L126.39,302.43 L126.79,303.00 L127.19,303.58 L127.58,304.16 L127.97,304.74 L128.35,305.33 L128.73,305.92 L129.11,306.51 L129.48,307.10 L129.85,307.70 L130.21,308.30 L130.58,308.90 L130.93,309.50 L131.29,310.11 L131.64,310.72 L131.98,311.34 L132.33,311.95 L132.66,312.57 L133.00,313.19 L133.33,313.81 L133.66,314.43 L133.99,315.06 L134.31,315.69 L134.63,316.32 L134.94,316.95 L135.25,317.58 L135.56,318.22 L135.86,318.86 L136.16,319.50 L136.46,320.14 L136.76,320.78 L137.05,321.43 L137.34,322.07 L137.62,322.72 L137.90,323.37 L138.18,324.02 L138.46,324.67 L138.73,325.32 L139.00,325.98 L139.27,326.63 L139.53,327.29 L139.79,327.95 L140.05,328.60 L140.30,329.26 L140.55,329.92 L140.80,330.58 L141.05,331.25 L141.29,331.91 L141.53,332.57 L141.77,333.23 L142.00,333.90 L142.24,334.56 L142.47,335.23 L142.69,335.90 L142.92,336.56 L143.14,337.23 L143.36,337.90 L143.57,338.57 L143.79,339.24 L144.00,339.91 L144.21,340.58 L144.41,341.25 L144.62,341.93 L144.82,342.60 L145.02,343.27 L145.21,343.95 L145.41,344.62 L145.60,345.30 L145.79,345.98 L145.98,346.65 L146.16,347.33 L146.35,348.01 L146.53,348.69 L146.70,349.37 L146.88,350.04 L147.05,350.72 L147.23,351.41 L147.40,352.09 L147.56,352.77 L147.73,353.45 L147.89,354.13 L148.06,354.81 L148.22,355.50 L148.37,356.18 L148.53,356.87 L148.68,357.55 L148.84,358.24 L148.99,358.92 L149.13,359.61 L149.28,360.29 L149.43,360.98 L149.57,361.67 L149.71,362.35 L149.85,363.04 L149.99,363.73 L150.12,364.42 L150.26,365.11 L150.39,365.79 L150.52,366.48 L150.65,367.17 L150.78,367.86 L150.91,368.55 L151.03,369.24 L151.16,369.93 L151.28,370.62 L151.40,371.31 L151.52,372.01 L151.64,372.70 L151.76,373.39 L151.87,374.08 L151.99,374.77 L152.10,375.47 L152.21,376.16 L152.32,376.85 L152.43,377.54 L152.54,378.24 L152.65,378.93 L152.75,379.62 L152.86,380.31 L152.96,381.01 L153.06,381.70 L153.17,382.39 L153.27,383.09 L153.37,383.78 L153.46,384.48 L153.56,385.17 L153.66,385.86 L153.75,386.56 L153.85,387.25 L153.94,387.94 L154.04,388.64 L154.13,389.33 L154.22,390.03 L154.31,390.72 L154.40,391.41 L154.49,392.11 L154.58,392.80 L154.67,393.49 L154.76,394.19 L154.85,394.88 L154.93,395.57 L155.02,396.27 L155.10,396.96 L155.19,397.65 L155.27,398.35 L155.36,399.04 L155.44,399.73 L155.52,400.42 L155.61,401.12 L155.69,401.81 L155.77,402.50 L155.85,403.19 L155.94,403.88 L156.02,404.57 L156.10,405.27 L156.18,405.96 L156.26,406.65 L156.34,407.34 L156.42,408.03 L156.50,408.72 L156.58,409.41 L156.66,410.10 L156.74,410.79 L156.82,411.48 L156.90,412.16 L156.98,412.85 L157.06,413.54 L157.13,414.23 L157.21,414.92 L157.29,415.60 L157.37,416.29 L157.45,416.98 L157.53,417.67 L157.61,418.35 L157.68,419.04 L157.76,419.72 L157.84,420.41 L157.92,421.10 L157.99,421.79 L158.07,422.49 L158.15,423.19 L158.23,423.90 L158.30,424.61 L158.38,425.33 L158.46,426.06 L158.53,426.80 L158.61,427.55 L158.69,428.31 L158.76,429.09 L158.84,429.87 L158.92,430.67 L158.99,431.49 L159.07,432.32 L159.15,433.17 L159.22,434.03 L159.30,434.91 L159.38,435.79 L159.45,436.67 L159.53,437.55 L159.61,438.41 L159.68,439.25 L159.76,440.06 L159.84,440.85 L159.91,441.59 L159.99,442.29 L160.06,442.95 L160.14,443.54 L160.22,444.08 L160.29,444.55 L160.37,444.94 L160.45,445.25 L160.52,445.48 L160.60,445.61 L160.68,445.65 L160.75,445.58 L160.83,445.42 L160.91,445.17 L160.98,444.83 L161.06,444.42 L161.14,443.93 L161.21,443.37 L161.29,442.76 L161.37,442.09 L161.45,441.38 L161.52,440.62 L161.60,439.82 L161.68,439.00 L161.76,438.15 L161.83,437.29 L161.91,436.41 L161.99,435.53 L162.07,434.65 L162.15,433.78 L162.22,432.92 L162.30,432.07 L162.38,431.24 L162.46,430.43 L162.54,429.63 L162.62,428.85 L162.70,428.08 L162.78,427.32 L162.86,426.57 L162.93,425.83 L163.01,425.11 L163.09,424.39 L163.17,423.68 L163.26,422.97 L163.34,422.27 L163.42,421.58 L163.50,420.89 L163.58,420.20 L163.66,419.52 L163.74,418.84 L163.82,418.16 L163.90,417.47 L163.99,416.79 L164.07,416.11 L164.15,415.43 L164.23,414.76 L164.32,414.08 L164.40,413.40 L164.48,412.72 L164.57,412.04 L164.65,411.35 L164.74,410.67 L164.82,409.99 L164.91,409.31 L164.99,408.62 L165.08,407.94 L165.16,407.26 L165.25,406.57 L165.34,405.88 L165.42,405.20 L165.51,404.51 L165.60,403.82 L165.69,403.13 L165.78,402.44 L165.87,401.75 L165.97,401.06 L166.06,400.37 L166.15,399.68 L166.25,398.99 L166.35,398.30 L166.45,397.61 L166.55,396.92 L166.65,396.22 L166.75,395.53 L166.86,394.84 L166.96,394.15 L167.07,393.46 L167.18,392.76 L167.29,392.07 L167.40,391.38 L167.52,390.69 L167.64,389.99 L167.76,389.30 L167.88,388.61 L168.00,387.92 L168.13,387.23 L168.25,386.54 L168.39,385.85 L168.52,385.16 L168.65,384.47 L168.79,383.78 L168.93,383.09 L169.08,382.40 L169.22,381.71 L169.37,381.03 L169.52,380.34 L169.68,379.66 L169.83,378.97 L170.00,378.29 L170.16,377.60 L170.33,376.92 L170.50,376.24 L170.67,375.56 L170.85,374.88 L171.03,374.20 L171.21,373.52 L171.40,372.84 L171.59,372.16 L171.79,371.49 L171.98,370.81 L172.19,370.14 L172.39,369.47 L172.60,368.80 L172.82,368.13 L173.04,367.46 L173.26,366.79 L173.49,366.13 L173.72,365.46 L173.95,364.80 L174.19,364.14 L174.44,363.48 L174.68,362.82 L174.94,362.16 L175.19,361.50 L175.46,360.85 L175.72,360.20 L176.00,359.55 L176.27,358.90 L176.55,358.25 L176.84,357.61 L177.13,356.96 L177.43,356.32 L177.73,355.68 L178.04,355.04 L178.35,354.41 L178.67,353.77 L178.99,353.14 L179.32,352.51 L179.65,351.88 L179.99,351.26 L180.34,350.64 L180.69,350.02 L181.04,349.40 L181.40,348.79 L181.76,348.18 L182.13,347.57 L182.51,346.97 L182.89,346.37 L183.27,345.77 L183.66,345.18 L184.05,344.59 L184.45,344.00 L184.86,343.42 L185.27,342.84 L185.68,342.27 L186.10,341.70 L186.53,341.14 L186.96,340.58 L187.39,340.02 L187.83,339.47 L188.27,338.92 L188.72,338.38 L189.18,337.85 L189.64,337.32 L190.10,336.79 L190.57,336.27 L191.04,335.75 L191.52,335.24 L192.00,334.74 L192.49,334.24 L192.98,333.75 L193.48,333.26 L193.98,332.78 L194.49,332.31 L195.00,331.84 L195.52,331.38 L196.04,330.93 L196.57,330.48 L197.10,330.04 L197.63,329.60 L198.17,329.18 L198.72,328.76 L199.27,328.34 L199.82,327.94 L200.38,327.54 L200.94,327.15 L201.51,326.76 L202.08,326.39 L202.66,326.02 L203.24,325.66 L203.83,325.31 L204.42,324.96 L205.02,324.63 L205.62,324.30 L206.22,323.98 L206.83,323.67 L207.44,323.36 L208.06,323.06 L208.68,322.77 L209.30,322.49 L209.93,322.21 L210.56,321.95 L211.20,321.68 L211.84,321.43 L212.48,321.18 L213.13,320.94 L213.78,320.70 L214.43,320.47 L215.09,320.25 L215.75,320.03 L216.41,319.82 L217.07,319.62 L217.74,319.42 L218.41,319.23 L219.08,319.04 L219.76,318.85 L220.44,318.68 L221.12,318.50 L221.80,318.33 L222.49,318.17 L223.17,318.01 L223.86,317.86 L224.55,317.71 L225.25,317.56 L225.94,317.42 L226.64,317.29 L227.34,317.15 L228.04,317.03 L228.74,316.90 L229.44,316.78 L230.15,316.66 L230.85,316.55 L231.56,316.44 L232.27,316.33 L232.98,316.22 L233.69,316.12 L234.40,316.02 L235.11,315.92 L235.82,315.83 L236.53,315.74 L237.25,315.65 L237.96,315.56 L238.67,315.48 L239.39,315.39 L240.10,315.31 L240.81,315.23 L241.53,315.15 L242.24,315.08 L242.96,315.00 L243.67,314.93 L244.38,314.86 L245.10,314.78 L245.81,314.71 L246.52,314.64 L247.23,314.57 L247.94,314.50 L248.65,314.43 L249.36,314.37 L250.07,314.30 L250.77,314.23 L251.48,314.16 L252.19,314.10 L252.89,314.03 L253.60,313.96 L254.30,313.90 L255.00,313.83 L255.71,313.77 L256.41,313.70 L257.11,313.63 L257.81,313.57 L258.51,313.50 L259.21,313.44 L259.91,313.37 L260.61,313.30 L261.31,313.24 L262.01,313.17 L262.70,313.10 L263.40,313.04 L264.10,312.97 L264.79,312.90 L265.49,312.83 L266.18,312.76 L266.87,312.69 L267.57,312.62 L268.26,312.55 L268.95,312.48 L269.65,312.40 L270.34,312.33 L271.03,312.26 L271.72,312.18 L272.41,312.11 L273.10,312.03 L273.79,311.95 L274.48,311.87 L275.17,311.79 L275.86,311.71 L276.55,311.63 L277.23,311.55 L277.92,311.46 L278.61,311.38 L279.30,311.29 L279.98,311.20 L280.67,311.11 L281.36,311.02 L282.04,310.93 L282.73,310.84 L283.41,310.74 L284.10,310.64 L284.78,310.54 L285.47,310.44 L286.15,310.34 L286.84,310.24 L287.52,310.13 L288.21,310.03 L288.89,309.92 L289.57,309.81 L290.26,309.69 L290.94,309.58 L291.63,309.46 L292.31,309.34 L292.99,309.22 L293.67,309.10 L294.36,308.97 L295.04,308.84 L295.72,308.71 L296.41,308.58 L297.09,308.45 L297.77,308.31 L298.45,308.17 L299.14,308.03 L299.82,307.89 L300.50,307.74 L301.18,307.59 L301.87,307.44 L302.55,307.28 L303.23,307.13 L303.91,306.97 L304.60,306.80 L305.28,306.64 L305.96,306.47 L306.65,306.30 L307.33,306.12 L308.01,305.95 L308.70,305.76 L309.38,305.58 L310.06,305.39 L310.75,305.21 L311.43,305.01 L312.11,304.82 L312.80,304.62 L313.48,304.41 L314.17,304.21 L314.85,304.00 L315.54,303.79 L316.22,303.57 L316.91,303.35 L317.59,303.13 L318.28,302.90 L318.96,302.67 L319.65,302.43 L320.34,302.20" stroke="#ff0000" stroke-width="1.8" fill="none" stroke-linejoin="miter" stroke-linecap="butt"/>
<rect x="61.60" y="268.50" width="258.80" height="204.50" stroke="#858585" stroke-width="1" fill="none"/>
<text transform="translate(61.60,484.70) scale(0.92,1)" text-anchor="middle" font-size="8.6" fill="#333">6</text>
<text transform="translate(113.36,484.70) scale(0.92,1)" text-anchor="middle" font-size="8.6" fill="#333">8</text>
<text transform="translate(165.12,484.70) scale(0.92,1)" text-anchor="middle" font-size="8.6" fill="#333">10</text>
<text transform="translate(216.88,484.70) scale(0.92,1)" text-anchor="middle" font-size="8.6" fill="#333">12</text>
<text transform="translate(268.64,484.70) scale(0.92,1)" text-anchor="middle" font-size="8.6" fill="#333">14</text>
<text transform="translate(320.40,484.70) scale(0.92,1)" text-anchor="middle" font-size="8.6" fill="#333">16</text>
<text transform="translate(57.90,476.00) scale(0.92,1)" text-anchor="end" font-size="8.6" fill="#333">-35</text>
<text transform="translate(57.90,446.79) scale(0.92,1)" text-anchor="end" font-size="8.6" fill="#333">-30</text>
<text transform="translate(57.90,417.57) scale(0.92,1)" text-anchor="end" font-size="8.6" fill="#333">-25</text>
<text transform="translate(57.90,388.36) scale(0.92,1)" text-anchor="end" font-size="8.6" fill="#333">-20</text>
<text transform="translate(57.90,359.14) scale(0.92,1)" text-anchor="end" font-size="8.6" fill="#333">-15</text>
<text transform="translate(57.90,329.93) scale(0.92,1)" text-anchor="end" font-size="8.6" fill="#333">-10</text>
<text transform="translate(57.90,300.71) scale(0.92,1)" text-anchor="end" font-size="8.6" fill="#333">-5</text>
<text transform="translate(57.90,271.50) scale(0.92,1)" text-anchor="end" font-size="8.6" fill="#333">0</text>
<text x="191.00" y="495.70" text-anchor="middle" font-size="8.7" font-weight="bold" fill="#222">Freq (GHz)</text>
<text transform="translate(41.50,370.50) rotate(-90)" text-anchor="middle" font-size="8.7" font-weight="bold" fill="#222">Amplitude (dB)</text>
<rect x="244.00" y="425.50" width="52.00" height="22.50" fill="#fff" stroke="#959595" stroke-width="1"/>
<path d="M248.50,431.75H272.40" stroke="#ff0000" stroke-width="1.6"/>
<text transform="translate(275.00,434.65) scale(0.93,1)" font-size="8.1" fill="#333">b=5.4</text>
<path d="M248.50,441.80H272.40" stroke="#000000" stroke-width="1.6"/>
<text transform="translate(275.00,444.70) scale(0.93,1)" font-size="8.1" fill="#333">b=8.2</text>
<text x="-0.40" y="272.00" font-size="30.7" fill="#000">(c)</text>
<path d="M447.20,269.00V473.30M498.90,269.00V473.30M550.60,269.00V473.30M602.30,269.00V473.30M395.50,447.76H654.00M395.50,422.23H654.00M395.50,396.69H654.00M395.50,371.15H654.00M395.50,345.61H654.00M395.50,320.07H654.00M395.50,294.54H654.00" stroke="#ececec" stroke-width="1" fill="none"/>
<path d="M395.50,473.30V470.30M395.50,269.00V272.00M447.20,473.30V470.30M447.20,269.00V272.00M498.90,473.30V470.30M498.90,269.00V272.00M550.60,473.30V470.30M550.60,269.00V272.00M602.30,473.30V470.30M602.30,269.00V272.00M654.00,473.30V470.30M654.00,269.00V272.00M395.50,473.30H398.50M654.00,473.30H651.00M395.50,447.76H398.50M654.00,447.76H651.00M395.50,422.23H398.50M654.00,422.23H651.00M395.50,396.69H398.50M654.00,396.69H651.00M395.50,371.15H398.50M654.00,371.15H651.00M395.50,345.61H398.50M654.00,345.61H651.00M395.50,320.07H398.50M654.00,320.07H651.00M395.50,294.54H398.50M654.00,294.54H651.00M395.50,269.00H398.50M654.00,269.00H651.00" stroke="#858585" stroke-width="1" fill="none"/>
<path d="M395.66,284.30 L396.14,284.79 L396.61,285.28 L397.08,285.76 L397.54,286.23 L398.00,286.70 L398.46,287.16 L398.91,287.63 L399.36,288.09 L399.81,288.56 L400.25,289.03 L400.69,289.51 L401.13,289.99 L401.57,290.49 L402.00,290.99 L402.44,291.51 L402.87,292.04 L403.30,292.59 L403.73,293.15 L404.16,293.73 L404.59,294.32 L405.02,294.93 L405.46,295.54 L405.89,296.17 L406.32,296.80 L406.75,297.44 L407.19,298.08 L407.63,298.72 L408.07,299.37 L408.51,300.02 L408.95,300.66 L409.40,301.30 L409.85,301.93 L410.30,302.56 L410.76,303.18 L411.22,303.78 L411.68,304.38 L412.15,304.96 L412.63,305.52 L413.10,306.07 L413.59,306.60 L414.08,307.11 L414.57,307.60 L415.07,308.05 L415.57,308.47 L416.08,308.85 L416.59,309.18 L417.11,309.46 L417.62,309.67 L418.14,309.82 L418.66,309.90 L419.18,309.90 L419.70,309.81 L420.23,309.64 L420.75,309.41 L421.27,309.12 L421.79,308.79 L422.30,308.43 L422.82,308.06 L423.33,307.67 L423.85,307.26 L424.36,306.85 L424.86,306.42 L425.37,305.98 L425.88,305.53 L426.39,305.07 L426.89,304.60 L427.40,304.12 L427.90,303.63 L428.41,303.13 L428.91,302.63 L429.42,302.12 L429.92,301.61 L430.43,301.09 L430.94,300.57 L431.45,300.04 L431.96,299.52 L432.47,298.99 L432.99,298.46 L433.50,297.93 L434.02,297.40 L434.54,296.88 L435.07,296.35 L435.59,295.83 L436.12,295.31 L436.66,294.80 L437.19,294.29 L437.73,293.79 L438.27,293.30 L438.82,292.81 L439.37,292.33 L439.93,291.86 L440.49,291.40 L441.06,290.95 L441.63,290.51 L442.20,290.08 L442.78,289.66 L443.37,289.26 L443.96,288.87 L444.55,288.49 L445.16,288.13 L445.76,287.77 L446.37,287.43 L446.99,287.09 L447.60,286.77 L448.23,286.45 L448.85,286.15 L449.48,285.85 L450.12,285.57 L450.75,285.29 L451.39,285.02 L452.04,284.76 L452.68,284.51 L453.33,284.26 L453.98,284.02 L454.64,283.79 L455.29,283.56 L455.95,283.34 L456.61,283.13 L457.27,282.92 L457.94,282.71 L458.60,282.51 L459.27,282.32 L459.94,282.13 L460.60,281.94 L461.27,281.76 L461.95,281.58 L462.62,281.40 L463.29,281.23 L463.97,281.06 L464.64,280.90 L465.32,280.74 L466.00,280.58 L466.67,280.43 L467.35,280.28 L468.03,280.14 L468.72,279.99 L469.40,279.86 L470.08,279.72 L470.77,279.59 L471.45,279.46 L472.14,279.33 L472.82,279.21 L473.51,279.09 L474.20,278.98 L474.89,278.86 L475.58,278.75 L476.27,278.64 L476.96,278.54 L477.65,278.44 L478.35,278.34 L479.04,278.24 L479.73,278.15 L480.43,278.06 L481.12,277.97 L481.82,277.88 L482.52,277.80 L483.21,277.71 L483.91,277.64 L484.61,277.56 L485.31,277.48 L486.01,277.41 L486.71,277.34 L487.41,277.27 L488.11,277.20 L488.81,277.14 L489.51,277.08 L490.21,277.02 L490.91,276.96 L491.61,276.90 L492.32,276.84 L493.02,276.79 L493.72,276.74 L494.43,276.69 L495.13,276.64 L495.83,276.59 L496.54,276.54 L497.24,276.50 L497.95,276.45 L498.65,276.41 L499.35,276.37 L500.06,276.33 L500.76,276.29 L501.47,276.25 L502.17,276.21 L502.88,276.17 L503.58,276.14 L504.29,276.10 L504.99,276.07 L505.70,276.03 L506.40,276.00 L507.10,275.97 L507.81,275.93 L508.51,275.90 L509.22,275.87 L509.92,275.84 L510.62,275.81 L511.33,275.78 L512.03,275.76 L512.74,275.73 L513.44,275.70 L514.14,275.68 L514.85,275.65 L515.55,275.63 L516.25,275.60 L516.96,275.58 L517.66,275.55 L518.36,275.53 L519.07,275.51 L519.77,275.49 L520.47,275.47 L521.18,275.45 L521.88,275.43 L522.58,275.41 L523.28,275.39 L523.99,275.37 L524.69,275.36 L525.39,275.34 L526.10,275.32 L526.80,275.31 L527.50,275.29 L528.20,275.28 L528.91,275.26 L529.61,275.25 L530.31,275.24 L531.01,275.22 L531.72,275.21 L532.42,275.20 L533.12,275.19 L533.82,275.18 L534.52,275.17 L535.23,275.16 L535.93,275.15 L536.63,275.14 L537.33,275.13 L538.03,275.13 L538.74,275.12 L539.44,275.11 L540.14,275.11 L540.84,275.10 L541.54,275.10 L542.24,275.09 L542.95,275.09 L543.65,275.08 L544.35,275.08 L545.05,275.08 L545.75,275.07 L546.45,275.07 L547.15,275.07 L547.86,275.07 L548.56,275.07 L549.26,275.07 L549.96,275.07 L550.66,275.07 L551.36,275.07 L552.06,275.07 L552.77,275.07 L553.47,275.07 L554.17,275.07 L554.87,275.07 L555.57,275.08 L556.27,275.08 L556.97,275.08 L557.67,275.09 L558.37,275.09 L559.07,275.10 L559.78,275.10 L560.48,275.10 L561.18,275.11 L561.88,275.12 L562.58,275.12 L563.28,275.13 L563.98,275.13 L564.68,275.14 L565.38,275.15 L566.08,275.16 L566.78,275.16 L567.49,275.17 L568.19,275.18 L568.89,275.19 L569.59,275.20 L570.29,275.21 L570.99,275.22 L571.69,275.23 L572.39,275.24 L573.09,275.25 L573.79,275.26 L574.49,275.27 L575.19,275.28 L575.89,275.29 L576.60,275.30 L577.30,275.31 L578.00,275.32 L578.70,275.33 L579.40,275.35 L580.10,275.36 L580.80,275.37 L581.50,275.38 L582.20,275.40 L582.90,275.41 L583.60,275.42 L584.30,275.44 L585.00,275.45 L585.71,275.46 L586.41,275.48 L587.11,275.49 L587.81,275.51 L588.51,275.52 L589.21,275.53 L589.91,275.55 L590.61,275.56 L591.31,275.58 L592.01,275.59 L592.71,275.61 L593.41,275.62 L594.12,275.64 L594.82,275.65 L595.52,275.67 L596.22,275.68 L596.92,275.70 L597.62,275.72 L598.32,275.73 L599.02,275.75 L599.72,275.76 L600.43,275.78 L601.13,275.80 L601.83,275.81 L602.53,275.83 L603.23,275.84 L603.93,275.86 L604.63,275.88 L605.33,275.89 L606.03,275.91 L606.74,275.93 L607.44,275.94 L608.14,275.96 L608.84,275.98 L609.54,275.99 L610.24,276.01 L610.94,276.02 L611.65,276.04 L612.35,276.06 L613.05,276.07 L613.75,276.09 L614.45,276.11 L615.15,276.12 L615.86,276.14 L616.56,276.16 L617.26,276.17 L617.96,276.19 L618.66,276.20 L619.37,276.22 L620.07,276.24 L620.77,276.25 L621.47,276.27 L622.17,276.28 L622.88,276.30 L623.58,276.31 L624.28,276.33 L624.98,276.35 L625.69,276.36 L626.39,276.38 L627.09,276.39 L627.79,276.41 L628.49,276.42 L629.20,276.44 L629.90,276.45 L630.60,276.46 L631.31,276.48 L632.01,276.49 L632.71,276.51 L633.41,276.52 L634.12,276.53 L634.82,276.55 L635.52,276.56 L636.23,276.58 L636.93,276.59 L637.63,276.60 L638.34,276.61 L639.04,276.63 L639.74,276.64 L640.45,276.65 L641.15,276.66 L641.85,276.67 L642.56,276.69 L643.26,276.70 L643.96,276.71 L644.67,276.72 L645.37,276.73 L646.08,276.74 L646.78,276.75 L647.48,276.76 L648.19,276.77 L648.89,276.78 L649.60,276.79 L650.30,276.80 L651.01,276.81 L651.71,276.82 L652.42,276.82 L653.12,276.83 L653.83,276.84" stroke="#000000" stroke-width="1.8" fill="none" stroke-linejoin="miter" stroke-linecap="butt"/>
<path d="M395.65,271.50 L396.31,271.61 L396.97,271.72 L397.63,271.83 L398.29,271.94 L398.95,272.05 L399.62,272.16 L400.29,272.27 L400.95,272.38 L401.62,272.49 L402.30,272.60 L402.97,272.71 L403.64,272.82 L404.32,272.93 L404.99,273.04 L405.67,273.15 L406.35,273.26 L407.03,273.37 L407.71,273.49 L408.39,273.60 L409.08,273.71 L409.76,273.83 L410.44,273.94 L411.13,274.06 L411.82,274.17 L412.50,274.29 L413.19,274.41 L413.88,274.53 L414.57,274.65 L415.26,274.77 L415.95,274.89 L416.64,275.02 L417.33,275.14 L418.02,275.27 L418.72,275.40 L419.41,275.53 L420.10,275.66 L420.80,275.79 L421.49,275.92 L422.18,276.06 L422.88,276.20 L423.57,276.34 L424.26,276.48 L424.96,276.62 L425.65,276.76 L426.34,276.91 L427.04,277.06 L427.73,277.21 L428.42,277.36 L429.12,277.52 L429.81,277.67 L430.50,277.83 L431.19,277.99 L431.88,278.16 L432.57,278.32 L433.26,278.49 L433.95,278.66 L434.64,278.84 L435.33,279.01 L436.02,279.19 L436.70,279.37 L437.39,279.56 L438.08,279.75 L438.76,279.94 L439.44,280.13 L440.13,280.33 L440.81,280.53 L441.49,280.73 L442.17,280.93 L442.85,281.14 L443.52,281.36 L444.20,281.57 L444.87,281.79 L445.55,282.01 L446.22,282.24 L446.89,282.47 L447.56,282.70 L448.23,282.94 L448.89,283.18 L449.56,283.42 L450.22,283.67 L450.88,283.92 L451.54,284.18 L452.20,284.44 L452.85,284.70 L453.51,284.96 L454.16,285.23 L454.81,285.51 L455.46,285.79 L456.11,286.07 L456.75,286.35 L457.39,286.64 L458.03,286.93 L458.67,287.23 L459.31,287.53 L459.94,287.83 L460.57,288.14 L461.20,288.45 L461.83,288.77 L462.45,289.09 L463.08,289.41 L463.70,289.74 L464.31,290.07 L464.93,290.41 L465.54,290.75 L466.15,291.09 L466.75,291.44 L467.36,291.79 L467.96,292.14 L468.56,292.50 L469.15,292.87 L469.74,293.23 L470.33,293.61 L470.92,293.98 L471.50,294.36 L472.08,294.74 L472.66,295.13 L473.23,295.52 L473.80,295.92 L474.37,296.32 L474.93,296.72 L475.49,297.13 L476.05,297.54 L476.60,297.96 L477.15,298.38 L477.70,298.80 L478.24,299.23 L478.78,299.67 L479.32,300.10 L479.85,300.55 L480.37,300.99 L480.90,301.44 L481.42,301.90 L481.94,302.35 L482.45,302.82 L482.96,303.28 L483.46,303.75 L483.97,304.23 L484.46,304.71 L484.96,305.19 L485.45,305.68 L485.94,306.17 L486.42,306.66 L486.90,307.16 L487.37,307.66 L487.85,308.16 L488.32,308.67 L488.78,309.19 L489.24,309.70 L489.70,310.22 L490.16,310.74 L490.61,311.27 L491.05,311.80 L491.50,312.33 L491.94,312.87 L492.38,313.41 L492.81,313.95 L493.24,314.50 L493.67,315.05 L494.09,315.60 L494.51,316.16 L494.93,316.72 L495.34,317.28 L495.75,317.84 L496.16,318.41 L496.56,318.98 L496.96,319.55 L497.36,320.13 L497.75,320.71 L498.14,321.29 L498.53,321.87 L498.91,322.46 L499.29,323.05 L499.67,323.64 L500.04,324.24 L500.41,324.83 L500.78,325.43 L501.15,326.03 L501.51,326.64 L501.86,327.24 L502.22,327.85 L502.57,328.46 L502.92,329.08 L503.27,329.69 L503.61,330.31 L503.95,330.93 L504.28,331.55 L504.62,332.17 L504.95,332.80 L505.28,333.43 L505.60,334.06 L505.92,334.69 L506.24,335.32 L506.56,335.95 L506.87,336.59 L507.18,337.23 L507.48,337.87 L507.79,338.51 L508.09,339.15 L508.39,339.80 L508.68,340.44 L508.98,341.09 L509.27,341.74 L509.55,342.39 L509.84,343.04 L510.12,343.69 L510.40,344.35 L510.67,345.00 L510.95,345.66 L511.22,346.31 L511.48,346.97 L511.75,347.63 L512.01,348.29 L512.27,348.95 L512.53,349.61 L512.78,350.28 L513.03,350.94 L513.28,351.61 L513.53,352.27 L513.77,352.94 L514.01,353.60 L514.25,354.27 L514.49,354.94 L514.72,355.61 L514.95,356.28 L515.18,356.95 L515.41,357.62 L515.63,358.29 L515.85,358.96 L516.07,359.63 L516.29,360.30 L516.50,360.97 L516.71,361.64 L516.92,362.31 L517.13,362.99 L517.33,363.66 L517.53,364.33 L517.73,365.00 L517.93,365.68 L518.13,366.35 L518.32,367.03 L518.51,367.70 L518.70,368.38 L518.88,369.05 L519.07,369.73 L519.25,370.40 L519.43,371.08 L519.60,371.75 L519.78,372.43 L519.95,373.11 L520.12,373.78 L520.29,374.46 L520.45,375.14 L520.62,375.82 L520.78,376.50 L520.94,377.17 L521.10,377.85 L521.25,378.53 L521.41,379.21 L521.56,379.89 L521.71,380.58 L521.85,381.26 L522.00,381.94 L522.14,382.62 L522.28,383.30 L522.42,383.99 L522.56,384.67 L522.70,385.35 L522.83,386.04 L522.96,386.72 L523.09,387.41 L523.22,388.09 L523.34,388.78 L523.47,389.46 L523.59,390.15 L523.71,390.84 L523.83,391.52 L523.95,392.21 L524.06,392.90 L524.17,393.59 L524.29,394.28 L524.40,394.97 L524.50,395.66 L524.61,396.35 L524.71,397.04 L524.82,397.73 L524.92,398.42 L525.02,399.11 L525.12,399.81 L525.21,400.50 L525.31,401.20 L525.40,401.89 L525.49,402.58 L525.58,403.28 L525.67,403.98 L525.75,404.67 L525.84,405.37 L525.92,406.07 L526.00,406.77 L526.09,407.46 L526.16,408.16 L526.24,408.86 L526.32,409.56 L526.39,410.26 L526.46,410.97 L526.54,411.67 L526.61,412.37 L526.68,413.07 L526.74,413.78 L526.81,414.48 L526.87,415.18 L526.94,415.89 L527.00,416.59 L527.06,417.30 L527.12,418.00 L527.18,418.70 L527.24,419.40 L527.29,420.10 L527.35,420.80 L527.40,421.50 L527.45,422.20 L527.51,422.89 L527.56,423.59 L527.61,424.28 L527.66,424.97 L527.71,425.65 L527.76,426.33 L527.80,427.02 L527.85,427.69 L527.90,428.37 L527.94,429.04 L527.99,429.71 L528.03,430.37 L528.08,431.03 L528.12,431.69 L528.16,432.35 L528.21,433.01 L528.25,433.66 L528.29,434.32 L528.33,434.97 L528.37,435.63 L528.41,436.29 L528.45,436.95 L528.50,437.61 L528.54,438.28 L528.58,438.96 L528.62,439.64 L528.66,440.32 L528.70,441.01 L528.74,441.71 L528.78,442.42 L528.82,443.13 L528.86,443.86 L528.90,444.59 L528.94,445.34 L528.98,446.09 L529.03,446.86 L529.07,447.64 L529.11,448.43 L529.15,449.24 L529.20,450.06 L529.24,450.89 L529.29,451.74 L529.33,452.61 L529.38,453.50 L529.42,454.39 L529.47,455.30 L529.52,456.21 L529.56,457.12 L529.61,458.03 L529.66,458.92 L529.71,459.80 L529.76,460.66 L529.81,461.50 L529.86,462.30 L529.91,463.07 L529.96,463.80 L530.01,464.49 L530.06,465.12 L530.12,465.71 L530.17,466.23 L530.22,466.69 L530.28,467.08 L530.33,467.40 L530.38,467.63 L530.44,467.79 L530.49,467.85 L530.54,467.83 L530.60,467.71 L530.65,467.51 L530.71,467.23 L530.76,466.87 L530.82,466.45 L530.87,465.95 L530.93,465.40 L530.98,464.79 L531.03,464.13 L531.09,463.42 L531.14,462.68 L531.20,461.90 L531.25,461.08 L531.31,460.24 L531.36,459.38 L531.42,458.50 L531.47,457.62 L531.52,456.72 L531.58,455.82 L531.63,454.93 L531.68,454.05 L531.74,453.17 L531.79,452.32 L531.84,451.48 L531.90,450.66 L531.95,449.86 L532.00,449.07 L532.05,448.30 L532.10,447.53 L532.15,446.78 L532.20,446.04 L532.25,445.31 L532.30,444.59 L532.35,443.88 L532.40,443.17 L532.45,442.47 L532.49,441.78 L532.54,441.09 L532.59,440.40 L532.63,439.71 L532.68,439.03 L532.72,438.34 L532.76,437.65 L532.81,436.97 L532.85,436.28 L532.89,435.60 L532.93,434.91 L532.98,434.22 L533.02,433.53 L533.06,432.84 L533.10,432.16 L533.14,431.47 L533.18,430.78 L533.22,430.09 L533.26,429.40 L533.30,428.71 L533.34,428.02 L533.38,427.33 L533.42,426.63 L533.46,425.94 L533.50,425.25 L533.54,424.56 L533.59,423.87 L533.63,423.17 L533.67,422.48 L533.71,421.79 L533.76,421.09 L533.80,420.40 L533.84,419.71 L533.89,419.01 L533.93,418.32 L533.98,417.62 L534.03,416.93 L534.08,416.23 L534.13,415.54 L534.17,414.84 L534.23,414.15 L534.28,413.45 L534.33,412.76 L534.38,412.06 L534.44,411.36 L534.49,410.67 L534.55,409.97 L534.61,409.27 L534.67,408.58 L534.73,407.88 L534.79,407.18 L534.86,406.48 L534.92,405.79 L534.99,405.09 L535.06,404.39 L535.13,403.69 L535.20,402.99 L535.28,402.30 L535.35,401.60 L535.43,400.90 L535.51,400.20 L535.59,399.50 L535.67,398.80 L535.76,398.10 L535.85,397.41 L535.94,396.71 L536.03,396.01 L536.12,395.31 L536.22,394.61 L536.31,393.91 L536.41,393.21 L536.52,392.51 L536.62,391.81 L536.73,391.12 L536.84,390.42 L536.95,389.72 L537.06,389.02 L537.18,388.32 L537.30,387.63 L537.42,386.93 L537.54,386.23 L537.67,385.54 L537.80,384.84 L537.93,384.15 L538.06,383.45 L538.20,382.76 L538.34,382.07 L538.48,381.37 L538.63,380.68 L538.78,379.99 L538.93,379.30 L539.08,378.61 L539.23,377.92 L539.39,377.23 L539.56,376.54 L539.72,375.86 L539.89,375.17 L540.06,374.48 L540.23,373.80 L540.41,373.12 L540.59,372.44 L540.77,371.75 L540.96,371.07 L541.14,370.40 L541.34,369.72 L541.53,369.04 L541.73,368.37 L541.93,367.69 L542.14,367.02 L542.34,366.35 L542.56,365.68 L542.77,365.01 L542.99,364.34 L543.21,363.67 L543.43,363.01 L543.66,362.35 L543.89,361.69 L544.13,361.02 L544.37,360.37 L544.61,359.71 L544.86,359.05 L545.11,358.40 L545.36,357.75 L545.62,357.10 L545.88,356.45 L546.14,355.80 L546.41,355.16 L546.68,354.52 L546.96,353.88 L547.24,353.24 L547.52,352.60 L547.81,351.96 L548.10,351.33 L548.39,350.70 L548.69,350.07 L548.99,349.44 L549.30,348.82 L549.61,348.20 L549.93,347.58 L550.25,346.96 L550.57,346.34 L550.90,345.73 L551.23,345.12 L551.56,344.51 L551.90,343.90 L552.25,343.30 L552.60,342.70 L552.95,342.10 L553.31,341.50 L553.67,340.91 L554.03,340.31 L554.40,339.73 L554.78,339.14 L555.16,338.56 L555.54,337.97 L555.93,337.40 L556.32,336.82 L556.72,336.25 L557.12,335.68 L557.53,335.11 L557.94,334.55 L558.35,333.99 L558.77,333.43 L559.20,332.87 L559.63,332.32 L560.06,331.77 L560.50,331.23 L560.95,330.68 L561.40,330.14 L561.85,329.61 L562.31,329.08 L562.77,328.55 L563.23,328.02 L563.71,327.50 L564.18,326.98 L564.66,326.46 L565.14,325.95 L565.63,325.44 L566.12,324.94 L566.62,324.44 L567.12,323.94 L567.62,323.45 L568.13,322.96 L568.64,322.48 L569.16,322.00 L569.68,321.52 L570.20,321.05 L570.73,320.59 L571.26,320.12 L571.79,319.66 L572.33,319.21 L572.87,318.76 L573.42,318.32 L573.97,317.88 L574.52,317.44 L575.07,317.01 L575.63,316.58 L576.20,316.16 L576.76,315.75 L577.33,315.33 L577.90,314.93 L578.48,314.53 L579.06,314.13 L579.64,313.74 L580.22,313.35 L580.81,312.97 L581.40,312.60 L581.99,312.23 L582.59,311.87 L583.19,311.51 L583.79,311.15 L584.40,310.81 L585.00,310.46 L585.61,310.13 L586.23,309.79 L586.84,309.47 L587.46,309.15 L588.08,308.83 L588.70,308.52 L589.33,308.21 L589.96,307.91 L590.59,307.61 L591.22,307.31 L591.85,307.02 L592.49,306.74 L593.13,306.46 L593.77,306.18 L594.41,305.90 L595.06,305.63 L595.70,305.37 L596.35,305.11 L597.00,304.85 L597.66,304.59 L598.31,304.34 L598.97,304.09 L599.63,303.85 L600.29,303.60 L600.95,303.37 L601.61,303.13 L602.28,302.90 L602.94,302.66 L603.61,302.44 L604.28,302.21 L604.95,301.99 L605.62,301.77 L606.30,301.55 L606.97,301.33 L607.65,301.12 L608.32,300.91 L609.00,300.70 L609.68,300.49 L610.36,300.29 L611.04,300.09 L611.72,299.89 L612.41,299.70 L613.09,299.50 L613.78,299.31 L614.46,299.12 L615.15,298.94 L615.84,298.75 L616.53,298.57 L617.21,298.39 L617.90,298.22 L618.59,298.04 L619.28,297.87 L619.98,297.70 L620.67,297.53 L621.36,297.37 L622.05,297.21 L622.74,297.05 L623.44,296.89 L624.13,296.74 L624.82,296.59 L625.52,296.44 L626.21,296.29 L626.90,296.15 L627.60,296.00 L628.29,295.86 L628.98,295.73 L629.68,295.59 L630.37,295.46 L631.06,295.33 L631.76,295.20 L632.45,295.08 L633.14,294.95 L633.83,294.83 L634.52,294.72 L635.22,294.60 L635.91,294.49 L636.60,294.38 L637.29,294.27 L637.97,294.16 L638.66,294.06 L639.35,293.96 L640.04,293.86 L640.72,293.77 L641.41,293.67 L642.09,293.58 L642.78,293.49 L643.46,293.41 L644.14,293.32 L644.82,293.24 L645.50,293.16 L646.18,293.09 L646.86,293.01 L647.53,292.94 L648.21,292.87 L648.88,292.81 L649.55,292.74 L650.22,292.68 L650.89,292.62 L651.56,292.56 L652.23,292.51 L652.89,292.46 L653.56,292.41" stroke="#ff0000" stroke-width="1.8" fill="none" stroke-linejoin="miter" stroke-linecap="butt"/>
<rect x="395.50" y="269.00" width="258.50" height="204.30" stroke="#858585" stroke-width="1" fill="none"/>
<text transform="translate(395.50,485.00) scale(0.92,1)" text-anchor="middle" font-size="8.6" fill="#333">6</text>
<text transform="translate(447.20,485.00) scale(0.92,1)" text-anchor="middle" font-size="8.6" fill="#333">8</text>
<text transform="translate(498.90,485.00) scale(0.92,1)" text-anchor="middle" font-size="8.6" fill="#333">10</text>
<text transform="translate(550.60,485.00) scale(0.92,1)" text-anchor="middle" font-size="8.6" fill="#333">12</text>
<text transform="translate(602.30,485.00) scale(0.92,1)" text-anchor="middle" font-size="8.6" fill="#333">14</text>
<text transform="translate(654.00,485.00) scale(0.92,1)" text-anchor="middle" font-size="8.6" fill="#333">16</text>
<text transform="translate(391.80,476.30) scale(0.92,1)" text-anchor="end" font-size="8.6" fill="#333">-40</text>
<text transform="translate(391.80,450.76) scale(0.92,1)" text-anchor="end" font-size="8.6" fill="#333">-35</text>
<text transform="translate(391.80,425.23) scale(0.92,1)" text-anchor="end" font-size="8.6" fill="#333">-30</text>
<text transform="translate(391.80,399.69) scale(0.92,1)" text-anchor="end" font-size="8.6" fill="#333">-25</text>
<text transform="translate(391.80,374.15) scale(0.92,1)" text-anchor="end" font-size="8.6" fill="#333">-20</text>
<text transform="translate(391.80,348.61) scale(0.92,1)" text-anchor="end" font-size="8.6" fill="#333">-15</text>
<text transform="translate(391.80,323.07) scale(0.92,1)" text-anchor="end" font-size="8.6" fill="#333">-10</text>
<text transform="translate(391.80,297.54) scale(0.92,1)" text-anchor="end" font-size="8.6" fill="#333">-5</text>
<text transform="translate(391.80,272.00) scale(0.92,1)" text-anchor="end" font-size="8.6" fill="#333">0</text>
<text x="525.00" y="495.70" text-anchor="middle" font-size="8.7" font-weight="bold" fill="#222">Freq (GHz)</text>
<text transform="translate(375.50,370.50) rotate(-90)" text-anchor="middle" font-size="8.7" font-weight="bold" fill="#222">Amplitude (dB)</text>
<rect x="575.50" y="424.00" width="52.00" height="22.50" fill="#fff" stroke="#959595" stroke-width="1"/>
<path d="M580.00,430.50H604.00" stroke="#ff0000" stroke-width="1.6"/>
<text transform="translate(606.50,433.40) scale(0.93,1)" font-size="8.1" fill="#333">b=5.4</text>
<path d="M580.00,439.90H604.00" stroke="#000000" stroke-width="1.6"/>
<text transform="translate(606.50,442.80) scale(0.93,1)" font-size="8.1" fill="#333">b=8.2</text>
<text x="332.40" y="272.00" font-size="30.7" fill="#000">(d)</text>
</svg>
</body></html>
